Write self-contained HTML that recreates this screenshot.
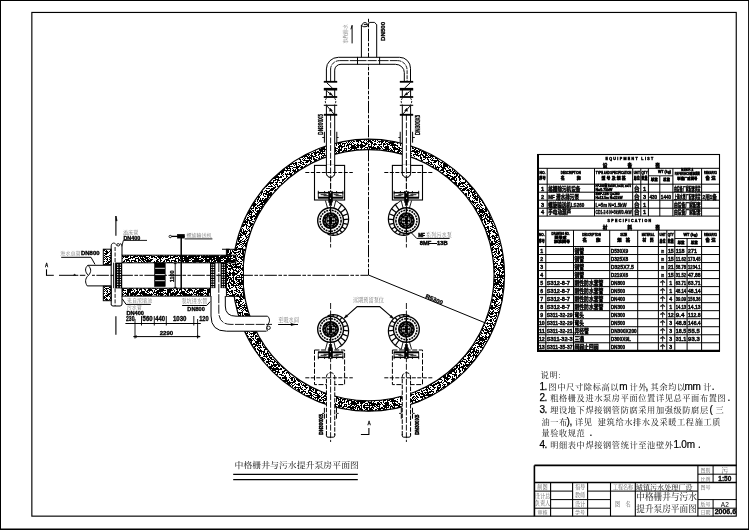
<!DOCTYPE html>
<html lang="zh"><head><meta charset="utf-8"><title>中格栅井与污水提升泵房平面图</title>
<style>html,body{margin:0;padding:0;background:#fff}svg{display:block;will-change:transform}text{white-space:pre}</style></head>
<body>
<svg width="749" height="530" viewBox="0 0 749 530">
<defs><pattern id="hc" width="64" height="64" patternUnits="userSpaceOnUse"><rect width="64" height="64" fill="#fff"/><path d="M0 0h2v1h-2zM5 0h2v1h-2zM10 0h3v1h-3zM14 0h2v1h-2zM20 0h2v1h-2zM23 0h4v1h-4zM28 0h1v1h-1zM32 0h2v1h-2zM35 0h1v1h-1zM38 0h1v1h-1zM40 0h4v1h-4zM45 0h1v1h-1zM47 0h1v1h-1zM49 0h4v1h-4zM55 0h2v1h-2zM59 0h3v1h-3zM63 0h1v1h-1zM0 1h4v1h-4zM5 1h1v1h-1zM7 1h4v1h-4zM12 1h4v1h-4zM17 1h2v1h-2zM20 1h2v1h-2zM24 1h1v1h-1zM26 1h2v1h-2zM29 1h4v1h-4zM34 1h1v1h-1zM36 1h2v1h-2zM42 1h2v1h-2zM46 1h5v1h-5zM54 1h3v1h-3zM58 1h1v1h-1zM60 1h1v1h-1zM63 1h1v1h-1zM0 2h1v1h-1zM2 2h2v1h-2zM5 2h1v1h-1zM7 2h1v1h-1zM9 2h7v1h-7zM17 2h2v1h-2zM20 2h1v1h-1zM24 2h3v1h-3zM30 2h1v1h-1zM34 2h1v1h-1zM36 2h1v1h-1zM39 2h1v1h-1zM44 2h1v1h-1zM48 2h2v1h-2zM53 2h1v1h-1zM56 2h1v1h-1zM59 2h3v1h-3zM63 2h1v1h-1zM0 3h1v1h-1zM2 3h1v1h-1zM4 3h1v1h-1zM7 3h1v1h-1zM11 3h8v1h-8zM20 3h1v1h-1zM22 3h1v1h-1zM24 3h2v1h-2zM27 3h1v1h-1zM29 3h1v1h-1zM31 3h2v1h-2zM38 3h7v1h-7zM46 3h1v1h-1zM49 3h3v1h-3zM53 3h4v1h-4zM58 3h4v1h-4zM63 3h1v1h-1zM0 4h4v1h-4zM8 4h2v1h-2zM11 4h2v1h-2zM14 4h4v1h-4zM22 4h1v1h-1zM25 4h5v1h-5zM31 4h2v1h-2zM35 4h1v1h-1zM39 4h1v1h-1zM42 4h1v1h-1zM44 4h2v1h-2zM50 4h1v1h-1zM53 4h3v1h-3zM57 4h1v1h-1zM59 4h1v1h-1zM61 4h1v1h-1zM63 4h1v1h-1zM0 5h1v1h-1zM2 5h2v1h-2zM11 5h2v1h-2zM14 5h1v1h-1zM16 5h1v1h-1zM20 5h2v1h-2zM24 5h1v1h-1zM26 5h2v1h-2zM29 5h2v1h-2zM33 5h2v1h-2zM36 5h1v1h-1zM41 5h3v1h-3zM45 5h2v1h-2zM48 5h2v1h-2zM53 5h2v1h-2zM56 5h2v1h-2zM59 5h3v1h-3zM63 5h1v1h-1zM0 6h1v1h-1zM2 6h1v1h-1zM4 6h1v1h-1zM6 6h2v1h-2zM9 6h3v1h-3zM13 6h2v1h-2zM16 6h1v1h-1zM21 6h1v1h-1zM25 6h5v1h-5zM31 6h2v1h-2zM34 6h2v1h-2zM37 6h1v1h-1zM39 6h2v1h-2zM42 6h2v1h-2zM47 6h1v1h-1zM52 6h4v1h-4zM57 6h1v1h-1zM59 6h3v1h-3zM1 7h2v1h-2zM4 7h1v1h-1zM6 7h1v1h-1zM8 7h4v1h-4zM13 7h7v1h-7zM21 7h1v1h-1zM27 7h3v1h-3zM31 7h2v1h-2zM37 7h2v1h-2zM43 7h1v1h-1zM45 7h5v1h-5zM52 7h1v1h-1zM55 7h2v1h-2zM59 7h2v1h-2zM1 8h1v1h-1zM3 8h8v1h-8zM12 8h2v1h-2zM19 8h2v1h-2zM22 8h1v1h-1zM24 8h1v1h-1zM26 8h1v1h-1zM28 8h2v1h-2zM31 8h1v1h-1zM33 8h3v1h-3zM38 8h1v1h-1zM40 8h7v1h-7zM49 8h1v1h-1zM52 8h3v1h-3zM57 8h4v1h-4zM1 9h1v1h-1zM3 9h3v1h-3zM7 9h5v1h-5zM13 9h2v1h-2zM19 9h2v1h-2zM22 9h4v1h-4zM31 9h2v1h-2zM34 9h1v1h-1zM36 9h4v1h-4zM41 9h1v1h-1zM43 9h2v1h-2zM48 9h1v1h-1zM50 9h2v1h-2zM53 9h3v1h-3zM59 9h3v1h-3zM63 9h1v1h-1zM2 10h1v1h-1zM5 10h7v1h-7zM15 10h1v1h-1zM17 10h5v1h-5zM24 10h6v1h-6zM31 10h1v1h-1zM34 10h2v1h-2zM37 10h4v1h-4zM42 10h7v1h-7zM54 10h2v1h-2zM57 10h2v1h-2zM61 10h2v1h-2zM1 11h1v1h-1zM4 11h3v1h-3zM8 11h1v1h-1zM10 11h2v1h-2zM13 11h2v1h-2zM18 11h3v1h-3zM22 11h1v1h-1zM25 11h1v1h-1zM27 11h1v1h-1zM32 11h1v1h-1zM35 11h1v1h-1zM39 11h10v1h-10zM50 11h7v1h-7zM59 11h5v1h-5zM0 12h1v1h-1zM3 12h6v1h-6zM10 12h1v1h-1zM12 12h1v1h-1zM15 12h2v1h-2zM19 12h2v1h-2zM23 12h1v1h-1zM26 12h1v1h-1zM29 12h2v1h-2zM32 12h2v1h-2zM36 12h5v1h-5zM44 12h1v1h-1zM46 12h1v1h-1zM48 12h3v1h-3zM52 12h2v1h-2zM55 12h1v1h-1zM57 12h1v1h-1zM61 12h3v1h-3zM1 13h3v1h-3zM6 13h1v1h-1zM8 13h4v1h-4zM14 13h1v1h-1zM16 13h2v1h-2zM20 13h1v1h-1zM22 13h2v1h-2zM25 13h1v1h-1zM28 13h2v1h-2zM31 13h1v1h-1zM33 13h2v1h-2zM36 13h3v1h-3zM40 13h2v1h-2zM43 13h1v1h-1zM47 13h1v1h-1zM49 13h3v1h-3zM54 13h2v1h-2zM58 13h6v1h-6zM1 14h1v1h-1zM4 14h7v1h-7zM16 14h3v1h-3zM20 14h2v1h-2zM26 14h1v1h-1zM28 14h1v1h-1zM30 14h1v1h-1zM32 14h1v1h-1zM38 14h1v1h-1zM41 14h4v1h-4zM46 14h1v1h-1zM48 14h1v1h-1zM50 14h3v1h-3zM57 14h1v1h-1zM59 14h1v1h-1zM61 14h2v1h-2zM0 15h1v1h-1zM2 15h2v1h-2zM5 15h5v1h-5zM13 15h1v1h-1zM16 15h1v1h-1zM18 15h3v1h-3zM22 15h4v1h-4zM27 15h1v1h-1zM29 15h1v1h-1zM31 15h1v1h-1zM33 15h1v1h-1zM37 15h1v1h-1zM41 15h1v1h-1zM44 15h4v1h-4zM51 15h2v1h-2zM54 15h2v1h-2zM61 15h1v1h-1zM63 15h1v1h-1zM0 16h2v1h-2zM3 16h3v1h-3zM7 16h5v1h-5zM16 16h1v1h-1zM18 16h1v1h-1zM20 16h1v1h-1zM22 16h1v1h-1zM24 16h1v1h-1zM27 16h5v1h-5zM34 16h2v1h-2zM37 16h2v1h-2zM40 16h3v1h-3zM45 16h2v1h-2zM49 16h1v1h-1zM51 16h1v1h-1zM53 16h4v1h-4zM58 16h4v1h-4zM63 16h1v1h-1zM3 17h1v1h-1zM6 17h8v1h-8zM16 17h1v1h-1zM19 17h3v1h-3zM24 17h1v1h-1zM26 17h3v1h-3zM31 17h4v1h-4zM36 17h10v1h-10zM48 17h1v1h-1zM51 17h1v1h-1zM54 17h1v1h-1zM59 17h1v1h-1zM63 17h1v1h-1zM1 18h4v1h-4zM8 18h1v1h-1zM10 18h1v1h-1zM13 18h1v1h-1zM18 18h7v1h-7zM26 18h1v1h-1zM28 18h1v1h-1zM31 18h5v1h-5zM37 18h2v1h-2zM40 18h5v1h-5zM48 18h4v1h-4zM53 18h1v1h-1zM57 18h2v1h-2zM60 18h2v1h-2zM63 18h1v1h-1zM0 19h5v1h-5zM8 19h4v1h-4zM14 19h2v1h-2zM18 19h2v1h-2zM21 19h2v1h-2zM28 19h1v1h-1zM30 19h9v1h-9zM40 19h3v1h-3zM45 19h3v1h-3zM49 19h7v1h-7zM57 19h3v1h-3zM61 19h1v1h-1zM1 20h4v1h-4zM6 20h1v1h-1zM9 20h5v1h-5zM15 20h3v1h-3zM19 20h1v1h-1zM21 20h1v1h-1zM24 20h3v1h-3zM28 20h2v1h-2zM31 20h6v1h-6zM41 20h1v1h-1zM44 20h1v1h-1zM47 20h1v1h-1zM49 20h1v1h-1zM51 20h10v1h-10zM62 20h1v1h-1zM0 21h6v1h-6zM7 21h1v1h-1zM9 21h7v1h-7zM18 21h4v1h-4zM24 21h1v1h-1zM26 21h1v1h-1zM30 21h2v1h-2zM34 21h1v1h-1zM36 21h3v1h-3zM40 21h2v1h-2zM43 21h12v1h-12zM56 21h2v1h-2zM59 21h1v1h-1zM63 21h1v1h-1zM0 22h3v1h-3zM4 22h1v1h-1zM6 22h3v1h-3zM10 22h1v1h-1zM14 22h3v1h-3zM18 22h4v1h-4zM23 22h4v1h-4zM28 22h3v1h-3zM32 22h2v1h-2zM35 22h2v1h-2zM38 22h2v1h-2zM41 22h1v1h-1zM43 22h2v1h-2zM49 22h1v1h-1zM52 22h1v1h-1zM54 22h2v1h-2zM57 22h3v1h-3zM63 22h1v1h-1zM0 23h5v1h-5zM6 23h1v1h-1zM8 23h3v1h-3zM13 23h3v1h-3zM17 23h3v1h-3zM22 23h2v1h-2zM27 23h9v1h-9zM37 23h3v1h-3zM41 23h1v1h-1zM43 23h7v1h-7zM51 23h3v1h-3zM56 23h1v1h-1zM59 23h1v1h-1zM61 23h2v1h-2zM0 24h1v1h-1zM2 24h1v1h-1zM6 24h1v1h-1zM9 24h6v1h-6zM16 24h1v1h-1zM18 24h2v1h-2zM21 24h1v1h-1zM24 24h1v1h-1zM26 24h1v1h-1zM30 24h4v1h-4zM35 24h1v1h-1zM37 24h1v1h-1zM39 24h3v1h-3zM44 24h1v1h-1zM46 24h2v1h-2zM49 24h3v1h-3zM53 24h1v1h-1zM57 24h7v1h-7zM0 25h5v1h-5zM6 25h1v1h-1zM8 25h1v1h-1zM10 25h1v1h-1zM12 25h2v1h-2zM15 25h3v1h-3zM19 25h3v1h-3zM23 25h1v1h-1zM25 25h1v1h-1zM27 25h1v1h-1zM31 25h1v1h-1zM33 25h2v1h-2zM37 25h1v1h-1zM39 25h4v1h-4zM45 25h3v1h-3zM49 25h4v1h-4zM55 25h2v1h-2zM58 25h3v1h-3zM63 25h1v1h-1zM1 26h1v1h-1zM4 26h1v1h-1zM7 26h1v1h-1zM10 26h1v1h-1zM12 26h1v1h-1zM15 26h4v1h-4zM22 26h1v1h-1zM29 26h5v1h-5zM36 26h3v1h-3zM41 26h2v1h-2zM44 26h1v1h-1zM47 26h7v1h-7zM55 26h1v1h-1zM58 26h2v1h-2zM62 26h2v1h-2zM2 27h4v1h-4zM7 27h4v1h-4zM12 27h1v1h-1zM14 27h1v1h-1zM16 27h1v1h-1zM18 27h1v1h-1zM20 27h1v1h-1zM22 27h1v1h-1zM24 27h1v1h-1zM26 27h2v1h-2zM29 27h1v1h-1zM32 27h5v1h-5zM38 27h2v1h-2zM41 27h3v1h-3zM45 27h6v1h-6zM52 27h1v1h-1zM54 27h3v1h-3zM59 27h2v1h-2zM62 27h1v1h-1zM1 28h1v1h-1zM3 28h1v1h-1zM9 28h2v1h-2zM14 28h3v1h-3zM18 28h1v1h-1zM20 28h4v1h-4zM25 28h2v1h-2zM30 28h1v1h-1zM34 28h1v1h-1zM36 28h1v1h-1zM39 28h3v1h-3zM44 28h1v1h-1zM46 28h6v1h-6zM53 28h1v1h-1zM55 28h5v1h-5zM63 28h1v1h-1zM1 29h2v1h-2zM4 29h1v1h-1zM8 29h4v1h-4zM13 29h6v1h-6zM22 29h5v1h-5zM28 29h1v1h-1zM36 29h2v1h-2zM39 29h8v1h-8zM48 29h1v1h-1zM51 29h5v1h-5zM57 29h1v1h-1zM60 29h2v1h-2zM63 29h1v1h-1zM2 30h4v1h-4zM8 30h1v1h-1zM12 30h4v1h-4zM17 30h1v1h-1zM19 30h2v1h-2zM22 30h1v1h-1zM25 30h2v1h-2zM28 30h3v1h-3zM32 30h1v1h-1zM36 30h2v1h-2zM41 30h1v1h-1zM43 30h1v1h-1zM47 30h1v1h-1zM49 30h1v1h-1zM51 30h5v1h-5zM57 30h2v1h-2zM62 30h2v1h-2zM0 31h1v1h-1zM3 31h6v1h-6zM11 31h3v1h-3zM18 31h1v1h-1zM20 31h3v1h-3zM24 31h5v1h-5zM30 31h1v1h-1zM33 31h1v1h-1zM37 31h1v1h-1zM39 31h2v1h-2zM43 31h2v1h-2zM46 31h1v1h-1zM48 31h1v1h-1zM53 31h1v1h-1zM55 31h1v1h-1zM57 31h4v1h-4zM0 32h2v1h-2zM3 32h1v1h-1zM5 32h1v1h-1zM7 32h2v1h-2zM11 32h1v1h-1zM16 32h2v1h-2zM20 32h1v1h-1zM22 32h4v1h-4zM27 32h4v1h-4zM32 32h4v1h-4zM37 32h2v1h-2zM44 32h1v1h-1zM47 32h8v1h-8zM58 32h3v1h-3zM62 32h2v1h-2zM1 33h1v1h-1zM3 33h1v1h-1zM5 33h1v1h-1zM7 33h1v1h-1zM9 33h4v1h-4zM15 33h1v1h-1zM18 33h2v1h-2zM21 33h1v1h-1zM23 33h1v1h-1zM25 33h1v1h-1zM27 33h1v1h-1zM29 33h1v1h-1zM34 33h3v1h-3zM44 33h2v1h-2zM50 33h3v1h-3zM54 33h2v1h-2zM58 33h2v1h-2zM62 33h2v1h-2zM0 34h1v1h-1zM2 34h2v1h-2zM7 34h4v1h-4zM12 34h1v1h-1zM15 34h4v1h-4zM20 34h3v1h-3zM25 34h2v1h-2zM28 34h1v1h-1zM30 34h1v1h-1zM32 34h5v1h-5zM39 34h2v1h-2zM42 34h3v1h-3zM46 34h2v1h-2zM49 34h3v1h-3zM54 34h1v1h-1zM56 34h3v1h-3zM62 34h1v1h-1zM0 35h2v1h-2zM3 35h2v1h-2zM8 35h1v1h-1zM10 35h1v1h-1zM12 35h6v1h-6zM19 35h4v1h-4zM24 35h7v1h-7zM36 35h5v1h-5zM44 35h2v1h-2zM47 35h1v1h-1zM54 35h1v1h-1zM57 35h1v1h-1zM59 35h4v1h-4zM0 36h3v1h-3zM7 36h5v1h-5zM13 36h1v1h-1zM16 36h2v1h-2zM20 36h1v1h-1zM22 36h2v1h-2zM25 36h1v1h-1zM27 36h3v1h-3zM32 36h4v1h-4zM37 36h1v1h-1zM39 36h2v1h-2zM42 36h1v1h-1zM46 36h3v1h-3zM50 36h1v1h-1zM54 36h1v1h-1zM56 36h1v1h-1zM59 36h5v1h-5zM2 37h1v1h-1zM5 37h2v1h-2zM10 37h1v1h-1zM13 37h3v1h-3zM20 37h2v1h-2zM25 37h1v1h-1zM27 37h2v1h-2zM30 37h4v1h-4zM38 37h1v1h-1zM40 37h1v1h-1zM43 37h2v1h-2zM49 37h1v1h-1zM51 37h1v1h-1zM55 37h1v1h-1zM57 37h1v1h-1zM59 37h5v1h-5zM1 38h2v1h-2zM6 38h3v1h-3zM11 38h2v1h-2zM14 38h2v1h-2zM19 38h3v1h-3zM24 38h1v1h-1zM29 38h2v1h-2zM32 38h5v1h-5zM40 38h4v1h-4zM45 38h2v1h-2zM48 38h2v1h-2zM51 38h1v1h-1zM53 38h1v1h-1zM56 38h2v1h-2zM59 38h5v1h-5zM1 39h1v1h-1zM3 39h1v1h-1zM6 39h2v1h-2zM9 39h1v1h-1zM11 39h3v1h-3zM15 39h3v1h-3zM20 39h1v1h-1zM24 39h1v1h-1zM26 39h2v1h-2zM29 39h3v1h-3zM33 39h1v1h-1zM37 39h6v1h-6zM44 39h3v1h-3zM48 39h2v1h-2zM51 39h5v1h-5zM57 39h4v1h-4zM63 39h1v1h-1zM0 40h1v1h-1zM4 40h1v1h-1zM7 40h2v1h-2zM12 40h1v1h-1zM14 40h1v1h-1zM18 40h1v1h-1zM20 40h2v1h-2zM23 40h1v1h-1zM25 40h2v1h-2zM28 40h1v1h-1zM30 40h5v1h-5zM36 40h1v1h-1zM40 40h2v1h-2zM45 40h3v1h-3zM49 40h4v1h-4zM54 40h1v1h-1zM58 40h4v1h-4zM1 41h2v1h-2zM4 41h1v1h-1zM6 41h2v1h-2zM10 41h7v1h-7zM18 41h2v1h-2zM22 41h4v1h-4zM27 41h2v1h-2zM31 41h1v1h-1zM34 41h1v1h-1zM37 41h1v1h-1zM39 41h1v1h-1zM41 41h2v1h-2zM47 41h2v1h-2zM50 41h5v1h-5zM57 41h3v1h-3zM61 41h1v1h-1zM0 42h3v1h-3zM4 42h1v1h-1zM6 42h1v1h-1zM10 42h3v1h-3zM16 42h3v1h-3zM20 42h5v1h-5zM26 42h9v1h-9zM36 42h4v1h-4zM41 42h1v1h-1zM48 42h2v1h-2zM51 42h3v1h-3zM56 42h4v1h-4zM62 42h2v1h-2zM2 43h2v1h-2zM5 43h2v1h-2zM12 43h2v1h-2zM17 43h1v1h-1zM21 43h1v1h-1zM23 43h5v1h-5zM30 43h1v1h-1zM34 43h1v1h-1zM37 43h5v1h-5zM44 43h2v1h-2zM47 43h4v1h-4zM53 43h1v1h-1zM55 43h1v1h-1zM59 43h2v1h-2zM62 43h2v1h-2zM0 44h2v1h-2zM4 44h2v1h-2zM7 44h1v1h-1zM11 44h1v1h-1zM13 44h1v1h-1zM15 44h1v1h-1zM17 44h6v1h-6zM24 44h4v1h-4zM33 44h1v1h-1zM36 44h1v1h-1zM38 44h1v1h-1zM40 44h2v1h-2zM43 44h4v1h-4zM48 44h1v1h-1zM53 44h2v1h-2zM56 44h1v1h-1zM58 44h2v1h-2zM63 44h1v1h-1zM1 45h2v1h-2zM4 45h8v1h-8zM15 45h6v1h-6zM22 45h2v1h-2zM25 45h2v1h-2zM29 45h1v1h-1zM31 45h1v1h-1zM33 45h3v1h-3zM38 45h5v1h-5zM44 45h1v1h-1zM46 45h4v1h-4zM54 45h2v1h-2zM58 45h1v1h-1zM62 45h1v1h-1zM0 46h1v1h-1zM6 46h1v1h-1zM8 46h2v1h-2zM11 46h1v1h-1zM13 46h4v1h-4zM18 46h2v1h-2zM22 46h2v1h-2zM25 46h1v1h-1zM27 46h1v1h-1zM29 46h7v1h-7zM37 46h1v1h-1zM39 46h3v1h-3zM44 46h4v1h-4zM51 46h1v1h-1zM54 46h1v1h-1zM56 46h4v1h-4zM63 46h1v1h-1zM0 47h3v1h-3zM8 47h2v1h-2zM11 47h5v1h-5zM17 47h1v1h-1zM20 47h2v1h-2zM26 47h1v1h-1zM30 47h1v1h-1zM34 47h3v1h-3zM38 47h5v1h-5zM46 47h2v1h-2zM50 47h1v1h-1zM53 47h1v1h-1zM55 47h1v1h-1zM57 47h3v1h-3zM61 47h3v1h-3zM2 48h3v1h-3zM6 48h3v1h-3zM10 48h2v1h-2zM14 48h9v1h-9zM24 48h2v1h-2zM27 48h1v1h-1zM30 48h2v1h-2zM34 48h1v1h-1zM36 48h1v1h-1zM38 48h1v1h-1zM40 48h1v1h-1zM42 48h1v1h-1zM46 48h1v1h-1zM48 48h2v1h-2zM52 48h1v1h-1zM54 48h2v1h-2zM58 48h3v1h-3zM63 48h1v1h-1zM0 49h2v1h-2zM4 49h4v1h-4zM10 49h2v1h-2zM14 49h1v1h-1zM16 49h10v1h-10zM30 49h1v1h-1zM32 49h4v1h-4zM37 49h4v1h-4zM43 49h2v1h-2zM46 49h3v1h-3zM50 49h4v1h-4zM55 49h2v1h-2zM58 49h4v1h-4zM0 50h2v1h-2zM3 50h4v1h-4zM8 50h1v1h-1zM11 50h2v1h-2zM14 50h1v1h-1zM16 50h4v1h-4zM22 50h1v1h-1zM28 50h2v1h-2zM31 50h1v1h-1zM38 50h4v1h-4zM43 50h2v1h-2zM47 50h3v1h-3zM52 50h1v1h-1zM54 50h1v1h-1zM56 50h2v1h-2zM59 50h1v1h-1zM61 50h1v1h-1zM63 50h1v1h-1zM1 51h6v1h-6zM8 51h1v1h-1zM11 51h2v1h-2zM15 51h1v1h-1zM19 51h4v1h-4zM26 51h3v1h-3zM32 51h2v1h-2zM35 51h2v1h-2zM39 51h9v1h-9zM50 51h5v1h-5zM57 51h4v1h-4zM62 51h2v1h-2zM1 52h3v1h-3zM6 52h3v1h-3zM11 52h1v1h-1zM17 52h3v1h-3zM21 52h3v1h-3zM26 52h2v1h-2zM30 52h4v1h-4zM37 52h2v1h-2zM40 52h7v1h-7zM48 52h2v1h-2zM51 52h1v1h-1zM53 52h7v1h-7zM61 52h1v1h-1zM63 52h1v1h-1zM0 53h4v1h-4zM7 53h1v1h-1zM12 53h1v1h-1zM17 53h1v1h-1zM21 53h1v1h-1zM26 53h1v1h-1zM28 53h1v1h-1zM30 53h1v1h-1zM32 53h1v1h-1zM36 53h1v1h-1zM38 53h3v1h-3zM43 53h2v1h-2zM47 53h1v1h-1zM50 53h1v1h-1zM52 53h2v1h-2zM56 53h3v1h-3zM60 53h3v1h-3zM0 54h1v1h-1zM4 54h5v1h-5zM11 54h1v1h-1zM13 54h5v1h-5zM19 54h3v1h-3zM23 54h3v1h-3zM33 54h1v1h-1zM36 54h1v1h-1zM38 54h1v1h-1zM40 54h2v1h-2zM45 54h1v1h-1zM49 54h1v1h-1zM51 54h1v1h-1zM53 54h4v1h-4zM59 54h1v1h-1zM63 54h1v1h-1zM0 55h2v1h-2zM6 55h3v1h-3zM10 55h7v1h-7zM20 55h1v1h-1zM25 55h3v1h-3zM29 55h1v1h-1zM33 55h1v1h-1zM39 55h1v1h-1zM42 55h1v1h-1zM44 55h2v1h-2zM50 55h1v1h-1zM54 55h5v1h-5zM60 55h2v1h-2zM63 55h1v1h-1zM0 56h3v1h-3zM4 56h1v1h-1zM6 56h1v1h-1zM8 56h1v1h-1zM10 56h3v1h-3zM14 56h1v1h-1zM17 56h1v1h-1zM19 56h3v1h-3zM28 56h2v1h-2zM34 56h1v1h-1zM38 56h1v1h-1zM41 56h1v1h-1zM43 56h2v1h-2zM46 56h5v1h-5zM56 56h1v1h-1zM58 56h4v1h-4zM63 56h1v1h-1zM2 57h1v1h-1zM4 57h1v1h-1zM8 57h4v1h-4zM15 57h1v1h-1zM18 57h1v1h-1zM21 57h1v1h-1zM23 57h2v1h-2zM26 57h5v1h-5zM33 57h1v1h-1zM35 57h3v1h-3zM41 57h5v1h-5zM47 57h2v1h-2zM50 57h1v1h-1zM52 57h4v1h-4zM57 57h1v1h-1zM59 57h5v1h-5zM0 58h2v1h-2zM4 58h3v1h-3zM8 58h3v1h-3zM12 58h5v1h-5zM19 58h1v1h-1zM21 58h2v1h-2zM24 58h1v1h-1zM26 58h5v1h-5zM34 58h3v1h-3zM38 58h1v1h-1zM40 58h1v1h-1zM42 58h3v1h-3zM48 58h1v1h-1zM50 58h1v1h-1zM52 58h5v1h-5zM60 58h4v1h-4zM0 59h1v1h-1zM3 59h4v1h-4zM8 59h1v1h-1zM17 59h3v1h-3zM23 59h3v1h-3zM29 59h2v1h-2zM32 59h1v1h-1zM35 59h2v1h-2zM38 59h1v1h-1zM40 59h2v1h-2zM46 59h3v1h-3zM50 59h2v1h-2zM53 59h5v1h-5zM60 59h1v1h-1zM62 59h2v1h-2zM4 60h3v1h-3zM10 60h4v1h-4zM15 60h4v1h-4zM21 60h4v1h-4zM27 60h6v1h-6zM35 60h2v1h-2zM38 60h2v1h-2zM41 60h6v1h-6zM48 60h1v1h-1zM50 60h2v1h-2zM58 60h1v1h-1zM60 60h2v1h-2zM63 60h1v1h-1zM3 61h4v1h-4zM14 61h4v1h-4zM19 61h2v1h-2zM22 61h3v1h-3zM26 61h6v1h-6zM33 61h1v1h-1zM37 61h3v1h-3zM42 61h2v1h-2zM47 61h1v1h-1zM49 61h3v1h-3zM54 61h1v1h-1zM57 61h1v1h-1zM60 61h3v1h-3zM0 62h2v1h-2zM3 62h1v1h-1zM9 62h2v1h-2zM13 62h4v1h-4zM18 62h4v1h-4zM23 62h1v1h-1zM26 62h1v1h-1zM28 62h1v1h-1zM31 62h8v1h-8zM44 62h1v1h-1zM46 62h2v1h-2zM50 62h1v1h-1zM53 62h5v1h-5zM59 62h1v1h-1zM62 62h2v1h-2zM0 63h2v1h-2zM3 63h2v1h-2zM6 63h1v1h-1zM8 63h1v1h-1zM10 63h4v1h-4zM20 63h1v1h-1zM22 63h2v1h-2zM25 63h3v1h-3zM30 63h5v1h-5zM36 63h1v1h-1zM39 63h1v1h-1zM42 63h2v1h-2zM45 63h1v1h-1zM48 63h1v1h-1zM51 63h5v1h-5zM58 63h1v1h-1zM63 63h1v1h-1z" fill="#000" shape-rendering="crispEdges"/></pattern><pattern id="hd" width="40" height="40" patternUnits="userSpaceOnUse"><rect width="40" height="40" fill="#fff"/><path d="M0 0h2v1h-2zM3 0h2v1h-2zM6 0h3v1h-3zM10 0h2v1h-2zM13 0h1v1h-1zM16 0h9v1h-9zM26 0h9v1h-9zM36 0h4v1h-4zM0 1h1v1h-1zM2 1h1v1h-1zM6 1h3v1h-3zM11 1h5v1h-5zM18 1h5v1h-5zM24 1h2v1h-2zM28 1h1v1h-1zM31 1h4v1h-4zM36 1h3v1h-3zM0 2h1v1h-1zM3 2h1v1h-1zM6 2h1v1h-1zM8 2h5v1h-5zM14 2h3v1h-3zM21 2h2v1h-2zM26 2h3v1h-3zM30 2h6v1h-6zM37 2h2v1h-2zM1 3h1v1h-1zM4 3h3v1h-3zM8 3h5v1h-5zM14 3h2v1h-2zM17 3h2v1h-2zM21 3h1v1h-1zM24 3h4v1h-4zM30 3h4v1h-4zM36 3h4v1h-4zM1 4h1v1h-1zM4 4h3v1h-3zM8 4h6v1h-6zM15 4h4v1h-4zM20 4h6v1h-6zM28 4h5v1h-5zM34 4h1v1h-1zM36 4h2v1h-2zM0 5h1v1h-1zM4 5h5v1h-5zM10 5h8v1h-8zM20 5h3v1h-3zM24 5h1v1h-1zM26 5h3v1h-3zM30 5h4v1h-4zM35 5h5v1h-5zM0 6h2v1h-2zM3 6h1v1h-1zM5 6h3v1h-3zM9 6h1v1h-1zM12 6h2v1h-2zM15 6h3v1h-3zM19 6h11v1h-11zM31 6h1v1h-1zM35 6h1v1h-1zM37 6h1v1h-1zM1 7h7v1h-7zM10 7h2v1h-2zM13 7h5v1h-5zM19 7h3v1h-3zM23 7h1v1h-1zM27 7h7v1h-7zM36 7h3v1h-3zM0 8h7v1h-7zM9 8h4v1h-4zM16 8h2v1h-2zM20 8h2v1h-2zM23 8h2v1h-2zM28 8h3v1h-3zM32 8h4v1h-4zM37 8h1v1h-1zM39 8h1v1h-1zM0 9h4v1h-4zM7 9h5v1h-5zM13 9h1v1h-1zM16 9h2v1h-2zM19 9h3v1h-3zM24 9h2v1h-2zM28 9h4v1h-4zM35 9h2v1h-2zM39 9h1v1h-1zM0 10h6v1h-6zM7 10h6v1h-6zM14 10h1v1h-1zM17 10h1v1h-1zM19 10h1v1h-1zM21 10h1v1h-1zM25 10h1v1h-1zM27 10h6v1h-6zM34 10h1v1h-1zM37 10h3v1h-3zM0 11h3v1h-3zM7 11h4v1h-4zM14 11h1v1h-1zM16 11h3v1h-3zM21 11h4v1h-4zM26 11h2v1h-2zM29 11h1v1h-1zM32 11h1v1h-1zM34 11h1v1h-1zM36 11h4v1h-4zM0 12h1v1h-1zM3 12h1v1h-1zM5 12h1v1h-1zM7 12h4v1h-4zM12 12h2v1h-2zM15 12h4v1h-4zM20 12h5v1h-5zM27 12h2v1h-2zM33 12h6v1h-6zM0 13h3v1h-3zM4 13h5v1h-5zM10 13h8v1h-8zM19 13h8v1h-8zM29 13h1v1h-1zM31 13h1v1h-1zM33 13h1v1h-1zM36 13h4v1h-4zM0 14h4v1h-4zM6 14h3v1h-3zM10 14h7v1h-7zM20 14h1v1h-1zM22 14h11v1h-11zM34 14h3v1h-3zM38 14h2v1h-2zM0 15h3v1h-3zM5 15h1v1h-1zM7 15h2v1h-2zM10 15h3v1h-3zM14 15h2v1h-2zM17 15h5v1h-5zM23 15h9v1h-9zM36 15h1v1h-1zM38 15h1v1h-1zM0 16h9v1h-9zM10 16h1v1h-1zM13 16h5v1h-5zM19 16h7v1h-7zM29 16h1v1h-1zM31 16h4v1h-4zM37 16h3v1h-3zM0 17h2v1h-2zM3 17h1v1h-1zM5 17h3v1h-3zM10 17h5v1h-5zM18 17h1v1h-1zM20 17h1v1h-1zM22 17h1v1h-1zM24 17h5v1h-5zM31 17h2v1h-2zM34 17h3v1h-3zM38 17h2v1h-2zM0 18h1v1h-1zM2 18h1v1h-1zM8 18h3v1h-3zM12 18h1v1h-1zM15 18h4v1h-4zM20 18h4v1h-4zM25 18h3v1h-3zM29 18h1v1h-1zM36 18h1v1h-1zM39 18h1v1h-1zM0 19h1v1h-1zM5 19h4v1h-4zM15 19h1v1h-1zM18 19h2v1h-2zM21 19h5v1h-5zM27 19h2v1h-2zM30 19h3v1h-3zM37 19h2v1h-2zM0 20h2v1h-2zM4 20h1v1h-1zM6 20h4v1h-4zM11 20h5v1h-5zM18 20h3v1h-3zM22 20h2v1h-2zM25 20h7v1h-7zM36 20h2v1h-2zM0 21h1v1h-1zM3 21h2v1h-2zM6 21h1v1h-1zM9 21h1v1h-1zM11 21h1v1h-1zM14 21h3v1h-3zM18 21h1v1h-1zM21 21h1v1h-1zM23 21h2v1h-2zM26 21h5v1h-5zM34 21h1v1h-1zM36 21h3v1h-3zM2 22h2v1h-2zM7 22h6v1h-6zM18 22h2v1h-2zM21 22h2v1h-2zM24 22h2v1h-2zM27 22h1v1h-1zM33 22h4v1h-4zM39 22h1v1h-1zM1 23h3v1h-3zM5 23h3v1h-3zM11 23h1v1h-1zM13 23h1v1h-1zM18 23h1v1h-1zM23 23h4v1h-4zM28 23h4v1h-4zM33 23h1v1h-1zM35 23h2v1h-2zM38 23h1v1h-1zM0 24h4v1h-4zM5 24h3v1h-3zM9 24h4v1h-4zM14 24h2v1h-2zM17 24h1v1h-1zM19 24h2v1h-2zM22 24h1v1h-1zM24 24h5v1h-5zM30 24h1v1h-1zM32 24h2v1h-2zM35 24h2v1h-2zM0 25h8v1h-8zM9 25h3v1h-3zM13 25h2v1h-2zM17 25h4v1h-4zM22 25h5v1h-5zM28 25h2v1h-2zM31 25h2v1h-2zM34 25h2v1h-2zM1 26h1v1h-1zM4 26h1v1h-1zM6 26h2v1h-2zM9 26h4v1h-4zM14 26h3v1h-3zM18 26h2v1h-2zM22 26h6v1h-6zM29 26h5v1h-5zM35 26h3v1h-3zM1 27h1v1h-1zM3 27h3v1h-3zM7 27h2v1h-2zM10 27h1v1h-1zM13 27h6v1h-6zM21 27h3v1h-3zM25 27h1v1h-1zM27 27h1v1h-1zM29 27h3v1h-3zM35 27h1v1h-1zM37 27h3v1h-3zM0 28h1v1h-1zM2 28h4v1h-4zM7 28h1v1h-1zM9 28h5v1h-5zM16 28h3v1h-3zM21 28h1v1h-1zM23 28h6v1h-6zM31 28h1v1h-1zM33 28h3v1h-3zM37 28h1v1h-1zM39 28h1v1h-1zM0 29h4v1h-4zM5 29h6v1h-6zM12 29h2v1h-2zM16 29h3v1h-3zM21 29h2v1h-2zM24 29h4v1h-4zM29 29h4v1h-4zM35 29h4v1h-4zM1 30h1v1h-1zM3 30h3v1h-3zM7 30h1v1h-1zM11 30h1v1h-1zM13 30h5v1h-5zM23 30h3v1h-3zM30 30h4v1h-4zM36 30h2v1h-2zM39 30h1v1h-1zM0 31h3v1h-3zM5 31h1v1h-1zM7 31h3v1h-3zM11 31h7v1h-7zM19 31h4v1h-4zM24 31h6v1h-6zM31 31h1v1h-1zM35 31h1v1h-1zM38 31h2v1h-2zM0 32h2v1h-2zM3 32h3v1h-3zM7 32h1v1h-1zM9 32h1v1h-1zM11 32h2v1h-2zM14 32h9v1h-9zM25 32h1v1h-1zM28 32h1v1h-1zM30 32h2v1h-2zM33 32h1v1h-1zM35 32h3v1h-3zM39 32h1v1h-1zM1 33h4v1h-4zM8 33h3v1h-3zM13 33h4v1h-4zM18 33h2v1h-2zM21 33h3v1h-3zM25 33h4v1h-4zM30 33h1v1h-1zM33 33h1v1h-1zM35 33h2v1h-2zM39 33h1v1h-1zM0 34h2v1h-2zM5 34h3v1h-3zM9 34h2v1h-2zM14 34h3v1h-3zM18 34h1v1h-1zM21 34h6v1h-6zM30 34h2v1h-2zM38 34h2v1h-2zM0 35h1v1h-1zM2 35h3v1h-3zM8 35h2v1h-2zM11 35h3v1h-3zM15 35h6v1h-6zM22 35h3v1h-3zM27 35h1v1h-1zM30 35h1v1h-1zM32 35h2v1h-2zM35 35h2v1h-2zM38 35h2v1h-2zM0 36h6v1h-6zM8 36h1v1h-1zM10 36h1v1h-1zM12 36h1v1h-1zM15 36h1v1h-1zM18 36h1v1h-1zM22 36h8v1h-8zM32 36h3v1h-3zM36 36h4v1h-4zM5 37h2v1h-2zM8 37h4v1h-4zM13 37h1v1h-1zM15 37h4v1h-4zM20 37h1v1h-1zM22 37h5v1h-5zM28 37h4v1h-4zM33 37h2v1h-2zM0 38h4v1h-4zM5 38h2v1h-2zM9 38h2v1h-2zM15 38h5v1h-5zM22 38h1v1h-1zM25 38h1v1h-1zM27 38h2v1h-2zM30 38h6v1h-6zM38 38h1v1h-1zM0 39h6v1h-6zM8 39h2v1h-2zM13 39h2v1h-2zM18 39h4v1h-4zM25 39h4v1h-4zM31 39h1v1h-1zM36 39h1v1h-1z" fill="#000" shape-rendering="crispEdges"/></pattern><pattern id="he" width="32" height="32" patternUnits="userSpaceOnUse"><rect width="32" height="32" fill="#fff"/><path d="M0 0h8v1h-8zM9 0h18v1h-18zM28 0h4v1h-4zM0 1h2v1h-2zM3 1h2v1h-2zM6 1h1v1h-1zM9 1h14v1h-14zM24 1h8v1h-8zM0 2h9v1h-9zM11 2h1v1h-1zM13 2h2v1h-2zM17 2h3v1h-3zM21 2h10v1h-10zM2 3h5v1h-5zM9 3h2v1h-2zM12 3h11v1h-11zM24 3h5v1h-5zM31 3h1v1h-1zM0 4h12v1h-12zM13 4h5v1h-5zM19 4h2v1h-2zM22 4h9v1h-9zM0 5h11v1h-11zM13 5h5v1h-5zM19 5h1v1h-1zM21 5h3v1h-3zM25 5h4v1h-4zM1 6h3v1h-3zM7 6h3v1h-3zM11 6h3v1h-3zM15 6h1v1h-1zM17 6h5v1h-5zM23 6h1v1h-1zM25 6h7v1h-7zM1 7h2v1h-2zM5 7h25v1h-25zM31 7h1v1h-1zM0 8h13v1h-13zM15 8h1v1h-1zM17 8h6v1h-6zM25 8h7v1h-7zM1 9h14v1h-14zM16 9h2v1h-2zM20 9h11v1h-11zM0 10h4v1h-4zM5 10h1v1h-1zM7 10h4v1h-4zM12 10h4v1h-4zM17 10h1v1h-1zM21 10h8v1h-8zM30 10h2v1h-2zM1 11h2v1h-2zM6 11h2v1h-2zM9 11h1v1h-1zM11 11h8v1h-8zM20 11h11v1h-11zM2 12h1v1h-1zM4 12h12v1h-12zM18 12h2v1h-2zM21 12h1v1h-1zM23 12h4v1h-4zM29 12h3v1h-3zM0 13h17v1h-17zM18 13h3v1h-3zM22 13h7v1h-7zM30 13h2v1h-2zM0 14h11v1h-11zM12 14h5v1h-5zM18 14h1v1h-1zM20 14h5v1h-5zM26 14h6v1h-6zM1 15h9v1h-9zM11 15h3v1h-3zM15 15h17v1h-17zM0 16h2v1h-2zM3 16h4v1h-4zM8 16h11v1h-11zM20 16h6v1h-6zM27 16h5v1h-5zM0 17h4v1h-4zM5 17h10v1h-10zM16 17h2v1h-2zM19 17h2v1h-2zM22 17h2v1h-2zM25 17h7v1h-7zM1 18h14v1h-14zM16 18h12v1h-12zM29 18h3v1h-3zM0 19h3v1h-3zM4 19h10v1h-10zM15 19h15v1h-15zM31 19h1v1h-1zM0 20h4v1h-4zM6 20h15v1h-15zM23 20h2v1h-2zM26 20h6v1h-6zM0 21h3v1h-3zM4 21h2v1h-2zM7 21h9v1h-9zM17 21h4v1h-4zM22 21h10v1h-10zM0 22h3v1h-3zM6 22h2v1h-2zM9 22h3v1h-3zM13 22h1v1h-1zM15 22h2v1h-2zM18 22h4v1h-4zM23 22h3v1h-3zM27 22h4v1h-4zM0 23h10v1h-10zM11 23h12v1h-12zM24 23h4v1h-4zM29 23h3v1h-3zM0 24h3v1h-3zM4 24h13v1h-13zM18 24h1v1h-1zM20 24h2v1h-2zM23 24h3v1h-3zM27 24h5v1h-5zM0 25h14v1h-14zM15 25h4v1h-4zM20 25h9v1h-9zM31 25h1v1h-1zM0 26h13v1h-13zM14 26h18v1h-18zM0 27h15v1h-15zM16 27h2v1h-2zM19 27h3v1h-3zM23 27h9v1h-9zM0 28h7v1h-7zM8 28h6v1h-6zM15 28h6v1h-6zM22 28h2v1h-2zM26 28h3v1h-3zM31 28h1v1h-1zM0 29h4v1h-4zM5 29h3v1h-3zM9 29h1v1h-1zM11 29h4v1h-4zM16 29h16v1h-16zM0 30h3v1h-3zM4 30h5v1h-5zM10 30h12v1h-12zM23 30h2v1h-2zM26 30h6v1h-6zM0 31h4v1h-4zM5 31h3v1h-3zM9 31h1v1h-1zM11 31h2v1h-2zM14 31h2v1h-2zM17 31h10v1h-10zM29 31h3v1h-3z" fill="#000" shape-rendering="crispEdges"/></pattern><pattern id="hl" width="16" height="16" patternUnits="userSpaceOnUse"><rect width="16" height="16" fill="#fff"/><path d="M0 0h1v1h-1zM3 0h1v1h-1zM9 0h4v1h-4zM15 0h1v1h-1zM1 1h1v1h-1zM3 1h1v1h-1zM5 1h2v1h-2zM8 1h1v1h-1zM10 1h1v1h-1zM13 1h2v1h-2zM1 2h2v1h-2zM6 2h2v1h-2zM9 2h1v1h-1zM11 2h1v1h-1zM14 2h2v1h-2zM0 3h1v1h-1zM2 3h2v1h-2zM5 3h2v1h-2zM8 3h1v1h-1zM10 3h2v1h-2zM13 3h1v1h-1zM0 4h1v1h-1zM2 4h1v1h-1zM4 4h1v1h-1zM11 4h1v1h-1zM14 4h2v1h-2zM1 5h1v1h-1zM5 5h1v1h-1zM7 5h2v1h-2zM10 5h1v1h-1zM12 5h3v1h-3zM1 6h1v1h-1zM4 6h1v1h-1zM6 6h2v1h-2zM11 6h3v1h-3zM1 7h1v1h-1zM5 7h2v1h-2zM9 7h4v1h-4zM5 8h1v1h-1zM7 8h2v1h-2zM10 8h2v1h-2zM13 8h1v1h-1zM15 8h1v1h-1zM6 9h4v1h-4zM14 9h1v1h-1zM3 10h1v1h-1zM5 10h4v1h-4zM10 10h1v1h-1zM14 10h2v1h-2zM0 11h1v1h-1zM2 11h1v1h-1zM4 11h1v1h-1zM6 11h1v1h-1zM9 11h3v1h-3zM13 11h1v1h-1zM15 11h1v1h-1zM2 12h1v1h-1zM5 12h2v1h-2zM10 12h3v1h-3zM0 13h2v1h-2zM4 13h1v1h-1zM6 13h1v1h-1zM8 13h4v1h-4zM14 13h1v1h-1zM1 14h1v1h-1zM3 14h1v1h-1zM5 14h1v1h-1zM9 14h2v1h-2zM1 15h3v1h-3zM6 15h1v1h-1zM8 15h1v1h-1zM13 15h3v1h-3z" fill="#000" shape-rendering="crispEdges"/></pattern></defs>
<rect width="749" height="530" fill="#fff"/>
<rect x="0" y="0" width="749" height="1" fill="#000"/>
<rect x="0" y="0" width="1" height="530" fill="#000"/>
<rect x="0" y="528.5" width="749" height="1.5" fill="#000"/>
<rect x="748.1" y="0" width="0.9" height="530" fill="#000"/>
<rect x="31.85" y="12.45" width="704.4" height="503.7" fill="none" stroke="#000" stroke-width="1.15"/>
<path d="M232.5 275.2a136 136 0 1 0 272 0a136 136 0 1 0 -272 0zM242.9 275.2a125.6 125.6 0 1 0 251.2 0a125.6 125.6 0 1 0 -251.2 0z" fill="url(#hc)" fill-rule="evenodd" stroke="none"/>
<circle cx="368.5" cy="275.2" r="136" fill="none" stroke="#000" stroke-width="1.2"/>
<circle cx="368.5" cy="275.2" r="125.6" fill="none" stroke="#000" stroke-width="1.2"/>
<line x1="368.5" y1="18.8" x2="368.5" y2="275" stroke="#000" stroke-width="1" stroke-dasharray="12.5 1.5 3.6 1.5 3.4 1.5" stroke-dashoffset="14"/>
<line x1="92" y1="275.3" x2="368.5" y2="275.3" stroke="#000" stroke-width="1" stroke-dasharray="12.5 1.5 3.6 1.5 3.4 1.5" stroke-dashoffset="19.6"/>
<path d="M46.5 275.3H53.8M59 275.3H78.3M79.8 275.3H85.3" fill="none" stroke="#000" stroke-width="1" />
<path d="M73.2 275.3l1.4 -1.2l1.4 1.2z" fill="#000" stroke="#000" stroke-width="0.3" />
<line x1="368.5" y1="275" x2="487.2" y2="323.7" stroke="#000" stroke-width="1"/>
<text x="433.4" y="301.3" font-size="6" fill="#000" font-family='"Liberation Sans","Noto Sans CJK SC",sans-serif' font-weight="bold" stroke="#000" stroke-width="0.3" text-anchor="middle" transform="rotate(22.3 433.4 301.3)" textLength="18.4" lengthAdjust="spacingAndGlyphs" >R5300</text>
<rect x="326.4" y="70" width="8.3" height="104" fill="#fff"/>
<path d="M326.4 114.7V173.2A4.15 4.15 0 0 0 334.7 173.2V114.7" fill="#fff" stroke="#000" stroke-width="1" />
<line x1="326.4" y1="68.8" x2="326.4" y2="81.7" stroke="#000" stroke-width="1"/>
<line x1="326.4" y1="89.1" x2="326.4" y2="97" stroke="#000" stroke-width="1"/>
<line x1="334.7" y1="89.1" x2="334.7" y2="97" stroke="#000" stroke-width="1"/>
<line x1="326.4" y1="105.3" x2="326.4" y2="114.7" stroke="#000" stroke-width="1"/>
<line x1="334.7" y1="105.3" x2="334.7" y2="114.7" stroke="#000" stroke-width="1"/>
<path d="M338.4 57.3A12.1 11.6 0 0 0 326.4 68.9" fill="none" stroke="#000" stroke-width="1" />
<path d="M341 64.3A6.2 5.8 0 0 0 334.7 70.1V81.7" fill="none" stroke="#000" stroke-width="1" />
<path d="M339.6 60.6A9 8.6 0 0 0 330.6 69.2" fill="none" stroke="#000" stroke-width="0.9" stroke-dasharray="4 1" />
<line x1="338.4" y1="57.3" x2="357.5" y2="57.3" stroke="#000" stroke-width="1"/>
<line x1="341" y1="64.3" x2="357.5" y2="64.3" stroke="#000" stroke-width="1"/>
<line x1="339.6" y1="60.6" x2="357.5" y2="60.6" stroke="#000" stroke-width="0.9" stroke-dasharray="9 1.2"/>
<line x1="330.6" y1="68.9" x2="330.6" y2="81.7" stroke="#000" stroke-width="0.9"/>
<line x1="330.6" y1="114.7" x2="330.6" y2="247.5" stroke="#000" stroke-width="0.9" stroke-dasharray="6 1.6"/>
<line x1="323.8" y1="81.8" x2="337.2" y2="81.8" stroke="#000" stroke-width="1.8"/>
<line x1="323.8" y1="89.2" x2="337.2" y2="89.2" stroke="#000" stroke-width="2.6"/>
<line x1="323.8" y1="97" x2="337.2" y2="97" stroke="#000" stroke-width="1.8"/>
<line x1="323.8" y1="105.3" x2="337.2" y2="105.3" stroke="#000" stroke-width="1.1"/>
<line x1="323.8" y1="114.8" x2="337.2" y2="114.8" stroke="#000" stroke-width="1.9"/>
<line x1="326.6" y1="82.6" x2="332.5" y2="88.2" stroke="#000" stroke-width="1"/>
<line x1="327.4" y1="91.5" x2="333.6" y2="96.6" stroke="#000" stroke-width="1"/>
<path d="M330 92.5L332.2 94.4L329.6 94.9z" fill="#000" stroke="#000" stroke-width="0.5" />
<line x1="327.2" y1="106.2" x2="333.8" y2="113.8" stroke="#000" stroke-width="1"/>
<path d="M330.3 108.3L332.3 110.6L329.5 111.2z" fill="#000" stroke="#000" stroke-width="0.5" />
<path d="M326.4 98.2Q324.2 101.3 326.4 104.6" fill="none" stroke="#000" stroke-width="0.9" stroke-dasharray="2 1" />
<path d="M334.7 98.2Q336.9 101.3 334.7 104.6" fill="none" stroke="#000" stroke-width="0.9" stroke-dasharray="2 1" />
<line x1="324.4" y1="131.8" x2="324.4" y2="142.7" stroke="#000" stroke-width="1"/>
<line x1="336.8" y1="131.8" x2="336.8" y2="142.7" stroke="#000" stroke-width="1"/>
<line x1="322.2" y1="137.5" x2="324.4" y2="137.5" stroke="#000" stroke-width="0.9"/>
<line x1="336.8" y1="137.5" x2="338.6" y2="137.5" stroke="#000" stroke-width="0.9"/>
<rect x="314.5" y="165.4" width="30.1" height="34.6" fill="none" stroke="#000" stroke-width="1.1"/>
<path d="M326.4 165V173.2A4.15 4.15 0 0 0 334.7 173.2V165" fill="#fff" stroke="#000" stroke-width="1" />
<line x1="330.6" y1="160" x2="330.6" y2="200" stroke="#000" stroke-width="0.9" stroke-dasharray="6 1.6"/>
<rect x="402.3" y="70" width="8.3" height="104" fill="#fff"/>
<path d="M410.6 114.7V173.2A4.15 4.15 0 0 1 402.3 173.2V114.7" fill="#fff" stroke="#000" stroke-width="1" />
<line x1="410.6" y1="89.1" x2="410.6" y2="97" stroke="#000" stroke-width="1"/>
<line x1="402.3" y1="89.1" x2="402.3" y2="97" stroke="#000" stroke-width="1"/>
<line x1="410.6" y1="105.3" x2="410.6" y2="114.7" stroke="#000" stroke-width="1"/>
<line x1="402.3" y1="105.3" x2="402.3" y2="114.7" stroke="#000" stroke-width="1"/>
<path d="M399.6 57.3A10.9 10.9 0 0 1 410.5 68.3V81.7" fill="none" stroke="#000" stroke-width="1" />
<path d="M395.4 64.3A8.9 8.2 0 0 1 404.3 72.5V81.7" fill="none" stroke="#000" stroke-width="1" />
<path d="M397.5 60.6A9.6 9.6 0 0 1 407.1 70.3V81.7" fill="none" stroke="#000" stroke-width="0.9" stroke-dasharray="4 1" />
<line x1="379.6" y1="57.3" x2="399.6" y2="57.3" stroke="#000" stroke-width="1"/>
<line x1="379.6" y1="64.3" x2="395.4" y2="64.3" stroke="#000" stroke-width="1"/>
<line x1="379.6" y1="60.6" x2="397.5" y2="60.6" stroke="#000" stroke-width="0.9" stroke-dasharray="9 1.2"/>
<line x1="406.4" y1="114.7" x2="406.4" y2="247.5" stroke="#000" stroke-width="0.9" stroke-dasharray="6 1.6"/>
<line x1="413.2" y1="81.8" x2="399.8" y2="81.8" stroke="#000" stroke-width="1.8"/>
<line x1="413.2" y1="89.2" x2="399.8" y2="89.2" stroke="#000" stroke-width="2.6"/>
<line x1="413.2" y1="97" x2="399.8" y2="97" stroke="#000" stroke-width="1.8"/>
<line x1="413.2" y1="105.3" x2="399.8" y2="105.3" stroke="#000" stroke-width="1.1"/>
<line x1="413.2" y1="114.8" x2="399.8" y2="114.8" stroke="#000" stroke-width="1.9"/>
<line x1="410.4" y1="82.6" x2="404.5" y2="88.2" stroke="#000" stroke-width="1"/>
<line x1="409.6" y1="91.5" x2="403.4" y2="96.6" stroke="#000" stroke-width="1"/>
<path d="M407 92.5L404.8 94.4L407.4 94.9z" fill="#000" stroke="#000" stroke-width="0.5" />
<line x1="409.8" y1="106.2" x2="403.2" y2="113.8" stroke="#000" stroke-width="1"/>
<path d="M406.7 108.3L404.7 110.6L407.5 111.2z" fill="#000" stroke="#000" stroke-width="0.5" />
<path d="M410.6 98.2Q412.8 101.3 410.6 104.6" fill="none" stroke="#000" stroke-width="0.9" stroke-dasharray="2 1" />
<path d="M402.3 98.2Q400.1 101.3 402.3 104.6" fill="none" stroke="#000" stroke-width="0.9" stroke-dasharray="2 1" />
<line x1="412.6" y1="131.8" x2="412.6" y2="142.7" stroke="#000" stroke-width="1"/>
<line x1="400.2" y1="131.8" x2="400.2" y2="142.7" stroke="#000" stroke-width="1"/>
<line x1="414.8" y1="137.5" x2="412.6" y2="137.5" stroke="#000" stroke-width="0.9"/>
<line x1="400.2" y1="137.5" x2="398.4" y2="137.5" stroke="#000" stroke-width="0.9"/>
<rect x="392.4" y="165.4" width="30.1" height="34.6" fill="none" stroke="#000" stroke-width="1.1"/>
<path d="M410.6 165V173.2A4.15 4.15 0 0 1 402.3 173.2V165" fill="#fff" stroke="#000" stroke-width="1" />
<line x1="406.4" y1="160" x2="406.4" y2="200" stroke="#000" stroke-width="0.9" stroke-dasharray="6 1.6"/>
<rect x="357.5" y="57.3" width="22.1" height="7" fill="#fff" stroke="#000" stroke-width="1"/>
<line x1="357.5" y1="60.6" x2="379.6" y2="60.6" stroke="#000" stroke-width="0.9" stroke-dasharray="9 1.2"/>
<path d="M361.4 57.3V25.2M376.7 57.3V24.6" fill="none" stroke="#000" stroke-width="1" />
<path d="M361.4 25.5L363.6 22.7H366L368 24.6L369.6 22.4H374.6L376.7 24.8M368 24.6Q368.4 26.4 366 26.6L363.8 26.8L361.4 25.5M363.8 24.6H367" fill="none" stroke="#000" stroke-width="0.95" />
<line x1="305.3" y1="172.5" x2="352.8" y2="172.5" stroke="#000" stroke-width="1" stroke-dasharray="4 1.5"/>
<line x1="384.3" y1="172.5" x2="433.6" y2="172.5" stroke="#000" stroke-width="1" stroke-dasharray="4 1.5"/>
<line x1="352.1" y1="25.3" x2="352.1" y2="43.4" stroke="#000" stroke-width="1"/>
<line x1="352.1" y1="25.3" x2="350.9" y2="29.3" stroke="#000" stroke-width="0.9"/>
<text x="346.7" y="43.8" font-size="4.9" fill="#777" font-family='"Liberation Serif","Noto Serif CJK SC",serif' transform="rotate(-90 346.7 43.8)" >事故排水</text>
<text x="385.1" y="41" font-size="5.6" fill="#000" font-family='"Liberation Sans","Noto Sans CJK SC",sans-serif' font-weight="bold" stroke="#000" stroke-width="0.3" transform="rotate(-90 385.1 41)" textLength="19.2" lengthAdjust="spacingAndGlyphs" >DN500</text>
<text x="323.1" y="134.8" font-size="6.8" fill="#000" font-family='"Liberation Sans","Noto Sans CJK SC",sans-serif' font-weight="bold" stroke="#000" stroke-width="0.3" transform="rotate(-90 323.1 134.8)" textLength="20.8" lengthAdjust="spacingAndGlyphs" >DN300X5</text>
<text x="420.3" y="135" font-size="6.8" fill="#000" font-family='"Liberation Sans","Noto Sans CJK SC",sans-serif' font-weight="bold" stroke="#000" stroke-width="0.3" transform="rotate(-90 420.3 135)" textLength="20.2" lengthAdjust="spacingAndGlyphs" >DN300X5</text>
<g transform="translate(330.6 220.7) scale(1 1)">
<line x1="-12.6" y1="-28" x2="12.6" y2="-28" stroke="#000" stroke-width="1.5"/>
<line x1="-12.3" y1="-29.9" x2="-12.3" y2="-27.3" stroke="#000" stroke-width="0.9"/>
<line x1="12.3" y1="-29.9" x2="12.3" y2="-27.3" stroke="#000" stroke-width="0.9"/>
<line x1="-6" y1="-29.7" x2="-6" y2="-27.3" stroke="#000" stroke-width="0.9"/>
<line x1="6" y1="-29.7" x2="6" y2="-27.3" stroke="#000" stroke-width="0.9"/>
<line x1="-12.6" y1="-23" x2="12.6" y2="-23" stroke="#000" stroke-width="2"/>
<line x1="-12.3" y1="-28" x2="-12.3" y2="-23" stroke="#000" stroke-width="0.9"/>
<line x1="12.3" y1="-28" x2="12.3" y2="-23" stroke="#000" stroke-width="0.9"/>
<path d="M-10 -26H-4M-7 -25H-2M3 -26H8M5 -25H11" fill="none" stroke="#000" stroke-width="0.9" />
<rect x="-2" y="-29.1" width="4" height="10.6" fill="#000" stroke="#000" stroke-width="0.5"/>
<rect x="-0.5" y="-28.5" width="1" height="1" fill="#fff"/>
<rect x="-0.7" y="-22.9" width="1" height="1" fill="#fff"/>
<rect x="-1.2" y="-18.7" width="2.4" height="3.5" fill="#000" stroke="#000" stroke-width="0.5"/>
<path d="M-5.2 -20.2L-3 -12.4M5.2 -20.2L3.3 -12.6" fill="none" stroke="#000" stroke-width="0.9" />
<path d="M-3.42 12.75 L-1.6 13.92 L0.48 14.51 L2.69 14.71 L4.94 14.52 L7.19 13.96 L9.36 13.03 L11.4 11.74 L13.25 10.13 L14.85 8.22 L16.17 6.05 L17.16 3.66 L17.78 1.12 L18.02 -1.53 L17.85 -4.22 L17.27 -6.89 L16.29 -9.48 L14.91 -11.92 L13.16 -14.16 L11.07 -16.14 L8.68 -17.8" fill="none" stroke="#000" stroke-width="1.2" />
<line x1="-1.48" y1="12.92" x2="-1.6" y2="13.92" stroke="#000" stroke-width="1.2"/>
<line x1="2.34" y1="12.79" x2="2.69" y2="14.71" stroke="#000" stroke-width="1.2"/>
<line x1="5.95" y1="11.56" x2="7.19" y2="13.96" stroke="#000" stroke-width="1.2"/>
<line x1="9.06" y1="9.33" x2="11.4" y2="11.74" stroke="#000" stroke-width="1.2"/>
<line x1="11.38" y1="6.29" x2="14.85" y2="8.22" stroke="#000" stroke-width="1.2"/>
<line x1="12.71" y1="2.71" x2="17.16" y2="3.66" stroke="#000" stroke-width="1.2"/>
<line x1="12.95" y1="-1.1" x2="18.02" y2="-1.53" stroke="#000" stroke-width="1.2"/>
<line x1="12.07" y1="-4.82" x2="17.27" y2="-6.89" stroke="#000" stroke-width="1.2"/>
<line x1="10.15" y1="-8.12" x2="14.91" y2="-11.92" stroke="#000" stroke-width="1.2"/>
<line x1="7.35" y1="-10.72" x2="11.07" y2="-16.14" stroke="#000" stroke-width="1.2"/>
<line x1="8.68" y1="-17.8" x2="5.2" y2="-20.2" stroke="#000" stroke-width="0.9"/>
<circle cx="0" cy="0" r="12.9" fill="none" stroke="#000" stroke-width="1.4"/>
<circle cx="0" cy="0" r="10.5" fill="none" stroke="#000" stroke-width="1.5" stroke-dasharray="1.9 0.9"/>
<circle cx="0" cy="0" r="7.8" fill="#000" stroke="#000" stroke-width="1.2"/>
<circle cx="0" cy="0" r="6.2" fill="none" stroke="#fff" stroke-width="0.5" stroke-dasharray="1.6 2.2"/>
<circle cx="0" cy="0" r="4.2" fill="none" stroke="#fff" stroke-width="0.55" stroke-dasharray="2.4 1.4"/>
<path d="M-4.2 -1.5H-1.4M1.4 -1.5H4.2M-4.2 1.7H-1.4M1.4 1.7H4.2M-2.1 -2.6V-0.6M-2.1 0.8V2.8M2.1 -2.6V-0.6M2.1 0.8V2.8" fill="none" stroke="#fff" stroke-width="0.6" />
<path d="M0 -13V-7M0 7V13" fill="none" stroke="#000" stroke-width="1.3" />
</g>
<g transform="translate(406.4 220.7) scale(-1 1)">
<line x1="-12.6" y1="-28" x2="12.6" y2="-28" stroke="#000" stroke-width="1.5"/>
<line x1="-12.3" y1="-29.9" x2="-12.3" y2="-27.3" stroke="#000" stroke-width="0.9"/>
<line x1="12.3" y1="-29.9" x2="12.3" y2="-27.3" stroke="#000" stroke-width="0.9"/>
<line x1="-6" y1="-29.7" x2="-6" y2="-27.3" stroke="#000" stroke-width="0.9"/>
<line x1="6" y1="-29.7" x2="6" y2="-27.3" stroke="#000" stroke-width="0.9"/>
<line x1="-12.6" y1="-23" x2="12.6" y2="-23" stroke="#000" stroke-width="2"/>
<line x1="-12.3" y1="-28" x2="-12.3" y2="-23" stroke="#000" stroke-width="0.9"/>
<line x1="12.3" y1="-28" x2="12.3" y2="-23" stroke="#000" stroke-width="0.9"/>
<path d="M-10 -26H-4M-7 -25H-2M3 -26H8M5 -25H11" fill="none" stroke="#000" stroke-width="0.9" />
<rect x="-2" y="-29.1" width="4" height="10.6" fill="#000" stroke="#000" stroke-width="0.5"/>
<rect x="-0.5" y="-28.5" width="1" height="1" fill="#fff"/>
<rect x="-0.7" y="-22.9" width="1" height="1" fill="#fff"/>
<rect x="-1.2" y="-18.7" width="2.4" height="3.5" fill="#000" stroke="#000" stroke-width="0.5"/>
<path d="M-5.2 -20.2L-3 -12.4M5.2 -20.2L3.3 -12.6" fill="none" stroke="#000" stroke-width="0.9" />
<path d="M-3.42 12.75 L-1.6 13.92 L0.48 14.51 L2.69 14.71 L4.94 14.52 L7.19 13.96 L9.36 13.03 L11.4 11.74 L13.25 10.13 L14.85 8.22 L16.17 6.05 L17.16 3.66 L17.78 1.12 L18.02 -1.53 L17.85 -4.22 L17.27 -6.89 L16.29 -9.48 L14.91 -11.92 L13.16 -14.16 L11.07 -16.14 L8.68 -17.8" fill="none" stroke="#000" stroke-width="1.2" />
<line x1="-1.48" y1="12.92" x2="-1.6" y2="13.92" stroke="#000" stroke-width="1.2"/>
<line x1="2.34" y1="12.79" x2="2.69" y2="14.71" stroke="#000" stroke-width="1.2"/>
<line x1="5.95" y1="11.56" x2="7.19" y2="13.96" stroke="#000" stroke-width="1.2"/>
<line x1="9.06" y1="9.33" x2="11.4" y2="11.74" stroke="#000" stroke-width="1.2"/>
<line x1="11.38" y1="6.29" x2="14.85" y2="8.22" stroke="#000" stroke-width="1.2"/>
<line x1="12.71" y1="2.71" x2="17.16" y2="3.66" stroke="#000" stroke-width="1.2"/>
<line x1="12.95" y1="-1.1" x2="18.02" y2="-1.53" stroke="#000" stroke-width="1.2"/>
<line x1="12.07" y1="-4.82" x2="17.27" y2="-6.89" stroke="#000" stroke-width="1.2"/>
<line x1="10.15" y1="-8.12" x2="14.91" y2="-11.92" stroke="#000" stroke-width="1.2"/>
<line x1="7.35" y1="-10.72" x2="11.07" y2="-16.14" stroke="#000" stroke-width="1.2"/>
<line x1="8.68" y1="-17.8" x2="5.2" y2="-20.2" stroke="#000" stroke-width="0.9"/>
<circle cx="0" cy="0" r="12.9" fill="none" stroke="#000" stroke-width="1.4"/>
<circle cx="0" cy="0" r="10.5" fill="none" stroke="#000" stroke-width="1.5" stroke-dasharray="1.9 0.9"/>
<circle cx="0" cy="0" r="7.8" fill="#000" stroke="#000" stroke-width="1.2"/>
<circle cx="0" cy="0" r="6.2" fill="none" stroke="#fff" stroke-width="0.5" stroke-dasharray="1.6 2.2"/>
<circle cx="0" cy="0" r="4.2" fill="none" stroke="#fff" stroke-width="0.55" stroke-dasharray="2.4 1.4"/>
<path d="M-4.2 -1.5H-1.4M1.4 -1.5H4.2M-4.2 1.7H-1.4M1.4 1.7H4.2M-2.1 -2.6V-0.6M-2.1 0.8V2.8M2.1 -2.6V-0.6M2.1 0.8V2.8" fill="none" stroke="#fff" stroke-width="0.6" />
<path d="M0 -13V-7M0 7V13" fill="none" stroke="#000" stroke-width="1.3" />
</g>
<rect x="326.45" y="376" width="8.3" height="61" fill="#fff"/>
<rect x="314.5" y="350" width="30.1" height="34.6" fill="none" stroke="#000" stroke-width="1" stroke-dasharray="5 1.6"/>
<path d="M326.45 435.5V376.8A4.15 4.15 0 0 1 334.75 376.8V435.5" fill="#fff" stroke="#000" stroke-width="1" stroke-dasharray="4.5 1.3" />
<path d="M326.45 434V435.6Q326.45 437.2 327.95 437.2H333.25Q334.75 437.2 334.75 435.6V434" fill="none" stroke="#000" stroke-width="1" />
<line x1="330.6" y1="303" x2="330.6" y2="442" stroke="#000" stroke-width="0.9" stroke-dasharray="6 1.6"/>
<line x1="324.4" y1="407.8" x2="324.4" y2="418.7" stroke="#000" stroke-width="1" stroke-dasharray="5 1.2"/>
<line x1="336.5" y1="407.8" x2="336.5" y2="418.7" stroke="#000" stroke-width="1" stroke-dasharray="5 1.2"/>
<line x1="322.2" y1="413.4" x2="324.4" y2="413.4" stroke="#000" stroke-width="0.9"/>
<line x1="336.5" y1="413.4" x2="338.7" y2="413.4" stroke="#000" stroke-width="0.9"/>
<rect x="402.25" y="376" width="8.3" height="61" fill="#fff"/>
<rect x="392.4" y="350" width="30.1" height="34.6" fill="none" stroke="#000" stroke-width="1" stroke-dasharray="5 1.6"/>
<path d="M402.25 435.5V376.8A4.15 4.15 0 0 1 410.55 376.8V435.5" fill="#fff" stroke="#000" stroke-width="1" stroke-dasharray="4.5 1.3" />
<path d="M402.25 434V435.6Q402.25 437.2 403.75 437.2H409.05Q410.55 437.2 410.55 435.6V434" fill="none" stroke="#000" stroke-width="1" />
<line x1="406.4" y1="303" x2="406.4" y2="442" stroke="#000" stroke-width="0.9" stroke-dasharray="6 1.6"/>
<line x1="401.3" y1="407.8" x2="401.3" y2="418.7" stroke="#000" stroke-width="1" stroke-dasharray="5 1.2"/>
<line x1="412.5" y1="407.8" x2="412.5" y2="418.7" stroke="#000" stroke-width="1" stroke-dasharray="5 1.2"/>
<line x1="399.1" y1="413.4" x2="401.3" y2="413.4" stroke="#000" stroke-width="0.9"/>
<line x1="412.5" y1="413.4" x2="414.7" y2="413.4" stroke="#000" stroke-width="0.9"/>
<g transform="translate(330.6 329.3) scale(1 -1)">
<line x1="-12.6" y1="-28" x2="12.6" y2="-28" stroke="#000" stroke-width="1.5"/>
<line x1="-12.3" y1="-29.9" x2="-12.3" y2="-27.3" stroke="#000" stroke-width="0.9"/>
<line x1="12.3" y1="-29.9" x2="12.3" y2="-27.3" stroke="#000" stroke-width="0.9"/>
<line x1="-6" y1="-29.7" x2="-6" y2="-27.3" stroke="#000" stroke-width="0.9"/>
<line x1="6" y1="-29.7" x2="6" y2="-27.3" stroke="#000" stroke-width="0.9"/>
<line x1="-12.6" y1="-23" x2="12.6" y2="-23" stroke="#000" stroke-width="2"/>
<line x1="-12.3" y1="-28" x2="-12.3" y2="-23" stroke="#000" stroke-width="0.9"/>
<line x1="12.3" y1="-28" x2="12.3" y2="-23" stroke="#000" stroke-width="0.9"/>
<path d="M-10 -26H-4M-7 -25H-2M3 -26H8M5 -25H11" fill="none" stroke="#000" stroke-width="0.9" />
<rect x="-2" y="-29.1" width="4" height="10.6" fill="#000" stroke="#000" stroke-width="0.5"/>
<rect x="-0.5" y="-28.5" width="1" height="1" fill="#fff"/>
<rect x="-0.7" y="-22.9" width="1" height="1" fill="#fff"/>
<rect x="-1.2" y="-18.7" width="2.4" height="3.5" fill="#000" stroke="#000" stroke-width="0.5"/>
<path d="M-5.2 -20.2L-3 -12.4M5.2 -20.2L3.3 -12.6" fill="none" stroke="#000" stroke-width="0.9" />
<path d="M-3.42 12.75 L-1.6 13.92 L0.48 14.51 L2.69 14.71 L4.94 14.52 L7.19 13.96 L9.36 13.03 L11.4 11.74 L13.25 10.13 L14.85 8.22 L16.17 6.05 L17.16 3.66 L17.78 1.12 L18.02 -1.53 L17.85 -4.22 L17.27 -6.89 L16.29 -9.48 L14.91 -11.92 L13.16 -14.16 L11.07 -16.14 L8.68 -17.8" fill="none" stroke="#000" stroke-width="1.2" />
<line x1="-1.48" y1="12.92" x2="-1.6" y2="13.92" stroke="#000" stroke-width="1.2"/>
<line x1="2.34" y1="12.79" x2="2.69" y2="14.71" stroke="#000" stroke-width="1.2"/>
<line x1="5.95" y1="11.56" x2="7.19" y2="13.96" stroke="#000" stroke-width="1.2"/>
<line x1="9.06" y1="9.33" x2="11.4" y2="11.74" stroke="#000" stroke-width="1.2"/>
<line x1="11.38" y1="6.29" x2="14.85" y2="8.22" stroke="#000" stroke-width="1.2"/>
<line x1="12.71" y1="2.71" x2="17.16" y2="3.66" stroke="#000" stroke-width="1.2"/>
<line x1="12.95" y1="-1.1" x2="18.02" y2="-1.53" stroke="#000" stroke-width="1.2"/>
<line x1="12.07" y1="-4.82" x2="17.27" y2="-6.89" stroke="#000" stroke-width="1.2"/>
<line x1="10.15" y1="-8.12" x2="14.91" y2="-11.92" stroke="#000" stroke-width="1.2"/>
<line x1="7.35" y1="-10.72" x2="11.07" y2="-16.14" stroke="#000" stroke-width="1.2"/>
<line x1="8.68" y1="-17.8" x2="5.2" y2="-20.2" stroke="#000" stroke-width="0.9"/>
<circle cx="0" cy="0" r="12.9" fill="none" stroke="#000" stroke-width="1.4"/>
<circle cx="0" cy="0" r="10.5" fill="none" stroke="#000" stroke-width="1.5" stroke-dasharray="1.9 0.9"/>
<circle cx="0" cy="0" r="7.8" fill="#000" stroke="#000" stroke-width="1.2"/>
<circle cx="0" cy="0" r="6.2" fill="none" stroke="#fff" stroke-width="0.5" stroke-dasharray="1.6 2.2"/>
<circle cx="0" cy="0" r="4.2" fill="none" stroke="#fff" stroke-width="0.55" stroke-dasharray="2.4 1.4"/>
<path d="M-4.2 -1.5H-1.4M1.4 -1.5H4.2M-4.2 1.7H-1.4M1.4 1.7H4.2M-2.1 -2.6V-0.6M-2.1 0.8V2.8M2.1 -2.6V-0.6M2.1 0.8V2.8" fill="none" stroke="#fff" stroke-width="0.6" />
<path d="M0 -13V-7M0 7V13" fill="none" stroke="#000" stroke-width="1.3" />
</g>
<g transform="translate(406.4 329.3) scale(-1 -1)">
<line x1="-12.6" y1="-28" x2="12.6" y2="-28" stroke="#000" stroke-width="1.5"/>
<line x1="-12.3" y1="-29.9" x2="-12.3" y2="-27.3" stroke="#000" stroke-width="0.9"/>
<line x1="12.3" y1="-29.9" x2="12.3" y2="-27.3" stroke="#000" stroke-width="0.9"/>
<line x1="-6" y1="-29.7" x2="-6" y2="-27.3" stroke="#000" stroke-width="0.9"/>
<line x1="6" y1="-29.7" x2="6" y2="-27.3" stroke="#000" stroke-width="0.9"/>
<line x1="-12.6" y1="-23" x2="12.6" y2="-23" stroke="#000" stroke-width="2"/>
<line x1="-12.3" y1="-28" x2="-12.3" y2="-23" stroke="#000" stroke-width="0.9"/>
<line x1="12.3" y1="-28" x2="12.3" y2="-23" stroke="#000" stroke-width="0.9"/>
<path d="M-10 -26H-4M-7 -25H-2M3 -26H8M5 -25H11" fill="none" stroke="#000" stroke-width="0.9" />
<rect x="-2" y="-29.1" width="4" height="10.6" fill="#000" stroke="#000" stroke-width="0.5"/>
<rect x="-0.5" y="-28.5" width="1" height="1" fill="#fff"/>
<rect x="-0.7" y="-22.9" width="1" height="1" fill="#fff"/>
<rect x="-1.2" y="-18.7" width="2.4" height="3.5" fill="#000" stroke="#000" stroke-width="0.5"/>
<path d="M-5.2 -20.2L-3 -12.4M5.2 -20.2L3.3 -12.6" fill="none" stroke="#000" stroke-width="0.9" />
<path d="M-3.42 12.75 L-1.6 13.92 L0.48 14.51 L2.69 14.71 L4.94 14.52 L7.19 13.96 L9.36 13.03 L11.4 11.74 L13.25 10.13 L14.85 8.22 L16.17 6.05 L17.16 3.66 L17.78 1.12 L18.02 -1.53 L17.85 -4.22 L17.27 -6.89 L16.29 -9.48 L14.91 -11.92 L13.16 -14.16 L11.07 -16.14 L8.68 -17.8" fill="none" stroke="#000" stroke-width="1.2" />
<line x1="-1.48" y1="12.92" x2="-1.6" y2="13.92" stroke="#000" stroke-width="1.2"/>
<line x1="2.34" y1="12.79" x2="2.69" y2="14.71" stroke="#000" stroke-width="1.2"/>
<line x1="5.95" y1="11.56" x2="7.19" y2="13.96" stroke="#000" stroke-width="1.2"/>
<line x1="9.06" y1="9.33" x2="11.4" y2="11.74" stroke="#000" stroke-width="1.2"/>
<line x1="11.38" y1="6.29" x2="14.85" y2="8.22" stroke="#000" stroke-width="1.2"/>
<line x1="12.71" y1="2.71" x2="17.16" y2="3.66" stroke="#000" stroke-width="1.2"/>
<line x1="12.95" y1="-1.1" x2="18.02" y2="-1.53" stroke="#000" stroke-width="1.2"/>
<line x1="12.07" y1="-4.82" x2="17.27" y2="-6.89" stroke="#000" stroke-width="1.2"/>
<line x1="10.15" y1="-8.12" x2="14.91" y2="-11.92" stroke="#000" stroke-width="1.2"/>
<line x1="7.35" y1="-10.72" x2="11.07" y2="-16.14" stroke="#000" stroke-width="1.2"/>
<line x1="8.68" y1="-17.8" x2="5.2" y2="-20.2" stroke="#000" stroke-width="0.9"/>
<circle cx="0" cy="0" r="12.9" fill="none" stroke="#000" stroke-width="1.4"/>
<circle cx="0" cy="0" r="10.5" fill="none" stroke="#000" stroke-width="1.5" stroke-dasharray="1.9 0.9"/>
<circle cx="0" cy="0" r="7.8" fill="#000" stroke="#000" stroke-width="1.2"/>
<circle cx="0" cy="0" r="6.2" fill="none" stroke="#fff" stroke-width="0.5" stroke-dasharray="1.6 2.2"/>
<circle cx="0" cy="0" r="4.2" fill="none" stroke="#fff" stroke-width="0.55" stroke-dasharray="2.4 1.4"/>
<path d="M-4.2 -1.5H-1.4M1.4 -1.5H4.2M-4.2 1.7H-1.4M1.4 1.7H4.2M-2.1 -2.6V-0.6M-2.1 0.8V2.8M2.1 -2.6V-0.6M2.1 0.8V2.8" fill="none" stroke="#fff" stroke-width="0.6" />
<path d="M0 -13V-7M0 7V13" fill="none" stroke="#000" stroke-width="1.3" />
</g>
<line x1="305.3" y1="377.8" x2="352.8" y2="377.8" stroke="#000" stroke-width="1" stroke-dasharray="4 1.5"/>
<line x1="384.3" y1="377.8" x2="433.6" y2="377.8" stroke="#000" stroke-width="1" stroke-dasharray="4 1.5"/>
<text x="322.9" y="434.8" font-size="5.6" fill="#000" font-family='"Liberation Sans","Noto Sans CJK SC",sans-serif' font-weight="bold" transform="rotate(-90 322.9 434.8)" textLength="20.8" lengthAdjust="spacingAndGlyphs" stroke="#000" stroke-width="0.5">DN300X5</text>
<text x="418.9" y="434.8" font-size="5.6" fill="#000" font-family='"Liberation Sans","Noto Sans CJK SC",sans-serif' font-weight="bold" transform="rotate(-90 418.9 434.8)" textLength="20.2" lengthAdjust="spacingAndGlyphs" stroke="#000" stroke-width="0.5">DN300X5</text>
<line x1="410.8" y1="232.2" x2="416.7" y2="238.4" stroke="#000" stroke-width="1"/>
<line x1="416.7" y1="238.4" x2="449.6" y2="238.4" stroke="#000" stroke-width="1"/>
<text x="418.2" y="236.8" font-size="5.1" fill="#000" font-family='"Liberation Sans","Noto Sans CJK SC",sans-serif' font-weight="bold" textLength="6.8" lengthAdjust="spacingAndGlyphs" stroke="#000" stroke-width="0.45">MF</text>
<text x="425.9" y="236.9" font-size="5.2" fill="#777" font-family='"Liberation Serif","Noto Serif CJK SC",serif' >系列污水泵</text>
<text x="419.7" y="244.7" font-size="6.2" fill="#000" font-family='"Liberation Sans","Noto Sans CJK SC",sans-serif' font-weight="bold" textLength="28" lengthAdjust="spacingAndGlyphs" stroke="#000" stroke-width="0.45">8MF—13B</text>
<text x="352.9" y="302.4" font-size="5.2" fill="#777" font-family='"Liberation Serif","Noto Serif CJK SC",serif' >远期预留泵位</text>
<path d="M344.2 318.2L357.2 306.6H379.7L393.6 318.6" fill="none" stroke="#000" stroke-width="1.1" />
<path d="M344.2 318.2l3.6 -1.6l-1.7 -1.9zM393.6 318.6l-3.8 -1.3l1.6 -2z" fill="#000" stroke="#000" stroke-width="0.4" />
<text x="369.1" y="424.9" font-size="6.2" fill="#000" font-family='"Liberation Sans","Noto Sans CJK SC",sans-serif' font-weight="bold" stroke="#000" stroke-width="0.3" text-anchor="middle" textLength="3.2" lengthAdjust="spacingAndGlyphs" >A</text>
<path d="M368.9 428V434.5H360.9" fill="none" stroke="#000" stroke-width="1.1" />
<text x="46.5" y="266.9" font-size="6.2" fill="#000" font-family='"Liberation Sans","Noto Sans CJK SC",sans-serif' font-weight="bold" stroke="#000" stroke-width="0.3" text-anchor="middle" textLength="3.2" lengthAdjust="spacingAndGlyphs" >A</text>
<line x1="46.5" y1="269.3" x2="46.5" y2="275.8" stroke="#000" stroke-width="1.1"/>
<rect x="226.4" y="249.3" width="17" height="47" fill="url(#hc)" stroke="#000" stroke-width="1"/>
<rect x="182" y="255.2" width="53.8" height="7.6" fill="url(#he)"/>
<rect x="122" y="255.2" width="60" height="7.6" fill="url(#hd)"/>
<rect x="122" y="255.2" width="113.8" height="7.6" fill="none" stroke="#000" stroke-width="1"/>
<rect x="122" y="288.2" width="88.4" height="7.9" fill="url(#hd)" stroke="#000" stroke-width="1"/>
<rect x="103.3" y="249.2" width="7.8" height="15.4" fill="url(#hl)" stroke="#000" stroke-width="1"/>
<rect x="103.3" y="286.2" width="7.8" height="14.5" fill="url(#hl)" stroke="#000" stroke-width="1"/>
<path d="M111.2 246V304.6M122 246V255.2M122 296V304Q122 306 120 306H113Q111.2 306 111.2 304.2M113.7 262.7V288.2" fill="none" stroke="#000" stroke-width="1" />
<line x1="115.1" y1="247" x2="115.1" y2="262.5" stroke="#000" stroke-width="0.9" stroke-dasharray="4 1.5"/>
<line x1="115.1" y1="288.4" x2="115.1" y2="306" stroke="#000" stroke-width="0.9" stroke-dasharray="4 1.5"/>
<line x1="115.6" y1="262.5" x2="115.6" y2="288.4" stroke="#000" stroke-width="1"/>
<path d="M111.2 246C111.3 242.6 114.6 242.4 115.6 244.2C116.4 245.8 119.8 246 120 244.4C120.2 243 121.9 243.4 122 246" fill="none" stroke="#000" stroke-width="0.9" />
<circle cx="118.2" cy="244.8" r="1.3" fill="#fff" stroke="#000" stroke-width="0.8"/>
<line x1="115.9" y1="216" x2="115.9" y2="235.8" stroke="#000" stroke-width="1.1"/>
<path d="M115.9 216L117.2 220.8L115.9 220.8z" fill="#000" stroke="#000" stroke-width="0.5" />
<line x1="115.9" y1="316.3" x2="115.9" y2="334.8" stroke="#000" stroke-width="1.1"/>
<path d="M111.2 265.3H87.9M111.2 285.9H87.2" fill="none" stroke="#000" stroke-width="1" />
<path d="M87.9 265.3C84.6 268 84.8 272 88.4 275.4C91.6 272 91.4 268.4 87.9 265.3M88.4 275.4C84.8 278.6 85 282.6 87.2 285.9" fill="none" stroke="#000" stroke-width="1" />
<rect x="115.9" y="262.6" width="6.3" height="25.8" fill="#000"/>
<path d="M117.15 264.2h1.1v1.25h-1.1zM119.85 264.2h1.1v1.25h-1.1zM117.15 266.65h1.1v1.25h-1.1zM119.85 266.65h1.1v1.25h-1.1zM117.15 269.1h1.1v1.25h-1.1zM119.85 269.1h1.1v1.25h-1.1zM117.15 271.55h1.1v1.25h-1.1zM119.85 271.55h1.1v1.25h-1.1zM117.15 274h1.1v1.25h-1.1zM119.85 274h1.1v1.25h-1.1zM117.15 276.45h1.1v1.25h-1.1zM119.85 276.45h1.1v1.25h-1.1zM117.15 278.9h1.1v1.25h-1.1zM119.85 278.9h1.1v1.25h-1.1zM117.15 281.35h1.1v1.25h-1.1zM119.85 281.35h1.1v1.25h-1.1zM117.15 283.8h1.1v1.25h-1.1zM119.85 283.8h1.1v1.25h-1.1zM117.15 286.25h1.1v1.25h-1.1zM119.85 286.25h1.1v1.25h-1.1z" fill="#fff"/>
<rect x="210" y="262.6" width="5.4" height="25.8" fill="#000"/>
<path d="M211.25 264.2h1.1v1.25h-1.1zM213.05 264.2h1.1v1.25h-1.1zM211.25 266.65h1.1v1.25h-1.1zM213.05 266.65h1.1v1.25h-1.1zM211.25 269.1h1.1v1.25h-1.1zM213.05 269.1h1.1v1.25h-1.1zM211.25 271.55h1.1v1.25h-1.1zM213.05 271.55h1.1v1.25h-1.1zM211.25 274h1.1v1.25h-1.1zM213.05 274h1.1v1.25h-1.1zM211.25 276.45h1.1v1.25h-1.1zM213.05 276.45h1.1v1.25h-1.1zM211.25 278.9h1.1v1.25h-1.1zM213.05 278.9h1.1v1.25h-1.1zM211.25 281.35h1.1v1.25h-1.1zM213.05 281.35h1.1v1.25h-1.1zM211.25 283.8h1.1v1.25h-1.1zM213.05 283.8h1.1v1.25h-1.1zM211.25 286.25h1.1v1.25h-1.1zM213.05 286.25h1.1v1.25h-1.1z" fill="#fff"/>
<rect x="220.6" y="262.6" width="5.6" height="25.8" fill="#000"/>
<path d="M221.85 264.2h1.1v1.25h-1.1zM223.85 264.2h1.1v1.25h-1.1zM221.85 266.65h1.1v1.25h-1.1zM223.85 266.65h1.1v1.25h-1.1zM221.85 269.1h1.1v1.25h-1.1zM223.85 269.1h1.1v1.25h-1.1zM221.85 271.55h1.1v1.25h-1.1zM223.85 271.55h1.1v1.25h-1.1zM221.85 274h1.1v1.25h-1.1zM223.85 274h1.1v1.25h-1.1zM221.85 276.45h1.1v1.25h-1.1zM223.85 276.45h1.1v1.25h-1.1zM221.85 278.9h1.1v1.25h-1.1zM223.85 278.9h1.1v1.25h-1.1zM221.85 281.35h1.1v1.25h-1.1zM223.85 281.35h1.1v1.25h-1.1zM221.85 283.8h1.1v1.25h-1.1zM223.85 283.8h1.1v1.25h-1.1zM221.85 286.25h1.1v1.25h-1.1zM223.85 286.25h1.1v1.25h-1.1z" fill="#fff"/>
<rect x="154.6" y="263" width="10.6" height="23.4" fill="#000" stroke="#000" stroke-width="0.6"/>
<line x1="155.2" y1="268.3" x2="164.8" y2="268.3" stroke="#fff" stroke-width="0.9"/>
<line x1="155.2" y1="274.6" x2="164.8" y2="274.6" stroke="#fff" stroke-width="0.9"/>
<line x1="155.2" y1="280.7" x2="164.8" y2="280.7" stroke="#fff" stroke-width="0.9"/>
<line x1="175.2" y1="262.8" x2="175.2" y2="288.2" stroke="#000" stroke-width="0.9"/>
<line x1="173.8" y1="263.6" x2="176.6" y2="263.6" stroke="#000" stroke-width="0.8"/>
<line x1="173.8" y1="287.4" x2="176.6" y2="287.4" stroke="#000" stroke-width="0.8"/>
<text x="173.8" y="282.3" font-size="5.5" fill="#000" font-family='"Liberation Sans","Noto Sans CJK SC",sans-serif' font-weight="bold" stroke="#000" stroke-width="0.3" transform="rotate(-90 173.8 282.3)" textLength="12" lengthAdjust="spacingAndGlyphs" >1100</text>
<line x1="181.2" y1="236.5" x2="181.2" y2="288.6" stroke="#000" stroke-width="1.5"/>
<line x1="170.4" y1="236.4" x2="184.6" y2="236.4" stroke="#000" stroke-width="1.3"/>
<rect x="177.2" y="234.2" width="7.4" height="4" fill="#000" stroke="#000" stroke-width="0.3"/>
<circle cx="170.2" cy="236.5" r="1.2" fill="#fff" stroke="#000" stroke-width="0.8"/>
<text x="186.4" y="237.2" font-size="5.1" fill="#777" font-family='"Liberation Serif","Noto Serif CJK SC",serif' >螺旋输送机</text>
<line x1="184.6" y1="238.9" x2="212.4" y2="238.9" stroke="#000" stroke-width="0.9"/>
<path d="M222 249.2H229.6M227.3 249.2V255" fill="none" stroke="#000" stroke-width="1.1" />
<path d="M211 288.2V316Q211 331.2 226.5 331.2H267.6V316.2H236Q225.3 316.2 225.3 306V288.2" fill="#fff" stroke="none"/>
<path d="M211 296V316Q211 331.2 226.5 331.2H266.5M267.6 316.2H236Q225.3 316.2 225.3 306V296" fill="none" stroke="#000" stroke-width="1" />
<path d="M218.8 263V312Q218.8 324.4 231 324.4H272" fill="none" stroke="#000" stroke-width="0.9" stroke-dasharray="9 1.4" />
<path d="M267.6 316.2C270 318.5 270 321.5 268.2 324C266.4 326.5 266.2 329 267.6 331.2" fill="none" stroke="#000" stroke-width="0.9" />
<circle cx="268.6" cy="327.8" r="1.7" fill="#fff" stroke="#000" stroke-width="0.9"/>
<text x="278.2" y="321.6" font-size="5.2" fill="#777" font-family='"Liberation Serif","Noto Serif CJK SC",serif' >至吸水间</text>
<line x1="278.1" y1="324.5" x2="298" y2="324.5" stroke="#000" stroke-width="1"/>
<path d="M295.2 324.5l-4.2 -1.2v2.4z" fill="#000" stroke="#000" stroke-width="0.4" />
<text x="60.3" y="254.7" font-size="5.1" fill="#777" font-family='"Liberation Serif","Noto Serif CJK SC",serif' >进水总管</text>
<text x="81" y="254.8" font-size="5" fill="#000" font-family='"Liberation Sans","Noto Sans CJK SC",sans-serif' font-weight="bold" stroke="#000" stroke-width="0.3" textLength="18.5" lengthAdjust="spacingAndGlyphs" >DN800</text>
<path d="M61.2 257.3H91L95 264.4" fill="none" stroke="#000" stroke-width="1" />
<text x="123" y="233.6" font-size="5.1" fill="#777" font-family='"Liberation Serif","Noto Serif CJK SC",serif' >溢流管</text>
<text x="123.4" y="239.9" font-size="5.4" fill="#000" font-family='"Liberation Sans","Noto Sans CJK SC",sans-serif' font-weight="bold" stroke="#000" stroke-width="0.3" textLength="16.8" lengthAdjust="spacingAndGlyphs" >DN400</text>
<path d="M147 240.4H123.4L121.8 246.3" fill="none" stroke="#000" stroke-width="0.9" />
<text x="126.8" y="302.3" font-size="5.1" fill="#777" font-family='"Liberation Serif","Noto Serif CJK SC",serif' >来自浓缩池</text>
<path d="M150.8 304.4H126.1L122.4 299" fill="none" stroke="#000" stroke-width="1" />
<text x="126.8" y="309.2" font-size="5" fill="#777" font-family='"Liberation Serif","Noto Serif CJK SC",serif' >污水管</text>
<text x="126.4" y="314.7" font-size="5.2" fill="#000" font-family='"Liberation Sans","Noto Sans CJK SC",sans-serif' font-weight="bold" stroke="#000" stroke-width="0.3" textLength="17.6" lengthAdjust="spacingAndGlyphs" >DN400</text>
<text x="181.4" y="302.5" font-size="5.2" fill="#777" font-family='"Liberation Serif","Noto Serif CJK SC",serif' >泵坑进水管</text>
<path d="M182.1 305.5H206.7L210.2 301.6" fill="none" stroke="#000" stroke-width="1" />
<text x="187.3" y="310.6" font-size="5.5" fill="#000" font-family='"Liberation Sans","Noto Sans CJK SC",sans-serif' font-weight="bold" stroke="#000" stroke-width="0.3" textLength="17.6" lengthAdjust="spacingAndGlyphs" >DN800</text>
<line x1="125.4" y1="323.5" x2="200.8" y2="323.5" stroke="#000" stroke-width="1"/>
<line x1="133.5" y1="336.6" x2="200.2" y2="336.6" stroke="#000" stroke-width="1"/>
<line x1="135" y1="319" x2="135" y2="338.5" stroke="#000" stroke-width="0.9"/>
<line x1="197.6" y1="319" x2="197.6" y2="338.5" stroke="#000" stroke-width="0.9"/>
<line x1="141.5" y1="316" x2="141.5" y2="325.5" stroke="#000" stroke-width="0.9"/>
<line x1="154.3" y1="316" x2="154.3" y2="325.5" stroke="#000" stroke-width="0.9"/>
<line x1="166.3" y1="316" x2="166.3" y2="325.5" stroke="#000" stroke-width="0.9"/>
<line x1="193.8" y1="316" x2="193.8" y2="325.5" stroke="#000" stroke-width="0.9"/>
<text x="126" y="320.6" font-size="6.5" fill="#000" font-family='"Liberation Sans","Noto Sans CJK SC",sans-serif' font-weight="bold" stroke="#000" stroke-width="0.3" textLength="8.5" lengthAdjust="spacingAndGlyphs" >230</text>
<text x="142.6" y="320.6" font-size="6.5" fill="#000" font-family='"Liberation Sans","Noto Sans CJK SC",sans-serif' font-weight="bold" stroke="#000" stroke-width="0.3" textLength="10" lengthAdjust="spacingAndGlyphs" >560</text>
<text x="155.2" y="320.6" font-size="6.5" fill="#000" font-family='"Liberation Sans","Noto Sans CJK SC",sans-serif' font-weight="bold" stroke="#000" stroke-width="0.3" textLength="9.8" lengthAdjust="spacingAndGlyphs" >440</text>
<text x="173" y="320.6" font-size="6.5" fill="#000" font-family='"Liberation Sans","Noto Sans CJK SC",sans-serif' font-weight="bold" stroke="#000" stroke-width="0.3" textLength="13.5" lengthAdjust="spacingAndGlyphs" >1030</text>
<text x="199.2" y="320.6" font-size="6.5" fill="#000" font-family='"Liberation Sans","Noto Sans CJK SC",sans-serif' font-weight="bold" stroke="#000" stroke-width="0.3" textLength="9.5" lengthAdjust="spacingAndGlyphs" >120</text>
<text x="166.4" y="335.2" font-size="5.6" fill="#000" font-family='"Liberation Sans","Noto Sans CJK SC",sans-serif' font-weight="bold" stroke="#000" stroke-width="0.3" text-anchor="middle" textLength="13.5" lengthAdjust="spacingAndGlyphs" >2290</text>
<path d="M133.5 336.6l3 -1v2zM200.2 336.6l-3 -1v2z" fill="#000" stroke="#000" stroke-width="0.4" />
<text x="234.5" y="468" font-size="8.4" fill="#333" font-family='"Liberation Serif","Noto Serif CJK SC",serif' font-weight="500" textLength="124.4" lengthAdjust="spacingAndGlyphs" >中格栅井与污水提升泵房平面图</text>
<line x1="233.2" y1="474.3" x2="357.8" y2="474.3" stroke="#000" stroke-width="1.3"/>
<line x1="233.2" y1="479.6" x2="357.8" y2="479.6" stroke="#000" stroke-width="1.3"/>
<rect x="537.8" y="154.5" width="181.7" height="196.3" fill="none" stroke="#000" stroke-width="1.1"/>
<line x1="537" y1="350.8" x2="720" y2="350.8" stroke="#000" stroke-width="2.2"/>
<line x1="538" y1="154" x2="538" y2="351.9" stroke="#000" stroke-width="2"/>
<line x1="537.8" y1="168.3" x2="719.5" y2="168.3" stroke="#000" stroke-width="1"/>
<line x1="537.8" y1="184.2" x2="719.5" y2="184.2" stroke="#000" stroke-width="1"/>
<line x1="537.8" y1="192.2" x2="719.5" y2="192.2" stroke="#000" stroke-width="1"/>
<line x1="537.8" y1="200.2" x2="719.5" y2="200.2" stroke="#000" stroke-width="1"/>
<line x1="537.8" y1="208.2" x2="719.5" y2="208.2" stroke="#000" stroke-width="1"/>
<line x1="537.8" y1="216.1" x2="719.5" y2="216.1" stroke="#000" stroke-width="1"/>
<line x1="547.2" y1="168.3" x2="547.2" y2="216.1" stroke="#000" stroke-width="1"/>
<line x1="594.5" y1="168.3" x2="594.5" y2="216.1" stroke="#000" stroke-width="1"/>
<line x1="632.7" y1="168.3" x2="632.7" y2="216.1" stroke="#000" stroke-width="1"/>
<line x1="640.8" y1="168.3" x2="640.8" y2="216.1" stroke="#000" stroke-width="1"/>
<line x1="648.4" y1="168.3" x2="648.4" y2="216.1" stroke="#000" stroke-width="1"/>
<line x1="659.8" y1="168.3" x2="659.8" y2="216.1" stroke="#000" stroke-width="1"/>
<line x1="672.9" y1="168.3" x2="672.9" y2="216.1" stroke="#000" stroke-width="1"/>
<line x1="701.6" y1="168.3" x2="701.6" y2="216.1" stroke="#000" stroke-width="1"/>
<line x1="648.4" y1="175.8" x2="672.9" y2="175.8" stroke="#000" stroke-width="0.9"/>
<rect x="658.8" y="168.9" width="2" height="6.4" fill="#fff"/>
<line x1="537.8" y1="230.2" x2="719.5" y2="230.2" stroke="#000" stroke-width="1"/>
<line x1="537.8" y1="246.5" x2="719.5" y2="246.5" stroke="#000" stroke-width="1"/>
<line x1="537.8" y1="254.52" x2="719.5" y2="254.52" stroke="#000" stroke-width="1"/>
<line x1="537.8" y1="262.55" x2="719.5" y2="262.55" stroke="#000" stroke-width="1"/>
<line x1="537.8" y1="270.57" x2="719.5" y2="270.57" stroke="#000" stroke-width="1"/>
<line x1="537.8" y1="278.59" x2="719.5" y2="278.59" stroke="#000" stroke-width="1"/>
<line x1="537.8" y1="286.62" x2="719.5" y2="286.62" stroke="#000" stroke-width="1"/>
<line x1="537.8" y1="294.64" x2="719.5" y2="294.64" stroke="#000" stroke-width="1"/>
<line x1="537.8" y1="302.66" x2="719.5" y2="302.66" stroke="#000" stroke-width="1"/>
<line x1="537.8" y1="310.68" x2="719.5" y2="310.68" stroke="#000" stroke-width="1"/>
<line x1="537.8" y1="318.71" x2="719.5" y2="318.71" stroke="#000" stroke-width="1"/>
<line x1="537.8" y1="326.73" x2="719.5" y2="326.73" stroke="#000" stroke-width="1"/>
<line x1="537.8" y1="334.75" x2="719.5" y2="334.75" stroke="#000" stroke-width="1"/>
<line x1="537.8" y1="342.78" x2="719.5" y2="342.78" stroke="#000" stroke-width="1"/>
<line x1="545.8" y1="230.2" x2="545.8" y2="350.8" stroke="#000" stroke-width="1"/>
<line x1="573.5" y1="230.2" x2="573.5" y2="350.8" stroke="#000" stroke-width="1"/>
<line x1="609.7" y1="230.2" x2="609.7" y2="350.8" stroke="#000" stroke-width="1"/>
<line x1="637.7" y1="230.2" x2="637.7" y2="350.8" stroke="#000" stroke-width="1"/>
<line x1="658.4" y1="230.2" x2="658.4" y2="350.8" stroke="#000" stroke-width="1"/>
<line x1="666.8" y1="230.2" x2="666.8" y2="350.8" stroke="#000" stroke-width="1"/>
<line x1="674.8" y1="230.2" x2="674.8" y2="350.8" stroke="#000" stroke-width="1"/>
<line x1="687.1" y1="230.2" x2="687.1" y2="350.8" stroke="#000" stroke-width="1"/>
<line x1="701.6" y1="230.2" x2="701.6" y2="350.8" stroke="#000" stroke-width="1"/>
<rect x="686.1" y="230.8" width="2" height="7.2" fill="#fff"/>
<line x1="674.8" y1="238.5" x2="701.6" y2="238.5" stroke="#000" stroke-width="0.9"/>
<text x="630" y="160.2" font-size="3.6" fill="#000" font-family='"Liberation Sans","Noto Sans CJK SC",sans-serif' font-weight="bold" text-anchor="middle" letter-spacing="1.35" stroke="#000" stroke-width="0.45">EQUIPMENT LIST</text>
<text x="605" y="167.3" font-size="4.6" fill="#000" font-family='"Liberation Sans","Noto Sans CJK SC",sans-serif' font-weight="bold" text-anchor="middle" stroke="#000" stroke-width="0.45">设</text>
<text x="629.8" y="167.3" font-size="4.6" fill="#000" font-family='"Liberation Sans","Noto Sans CJK SC",sans-serif' font-weight="bold" text-anchor="middle" stroke="#000" stroke-width="0.45">备</text>
<text x="657.6" y="167.3" font-size="4.6" fill="#000" font-family='"Liberation Sans","Noto Sans CJK SC",sans-serif' font-weight="bold" text-anchor="middle" stroke="#000" stroke-width="0.45">表</text>
<text x="630" y="221.8" font-size="3.6" fill="#000" font-family='"Liberation Sans","Noto Sans CJK SC",sans-serif' font-weight="bold" text-anchor="middle" letter-spacing="1.35" stroke="#000" stroke-width="0.45">SPECIFICATION</text>
<text x="605" y="228.8" font-size="4.6" fill="#000" font-family='"Liberation Sans","Noto Sans CJK SC",sans-serif' font-weight="bold" text-anchor="middle" stroke="#000" stroke-width="0.45">材</text>
<text x="629.8" y="228.8" font-size="4.6" fill="#000" font-family='"Liberation Sans","Noto Sans CJK SC",sans-serif' font-weight="bold" text-anchor="middle" stroke="#000" stroke-width="0.45">料</text>
<text x="657.6" y="228.8" font-size="4.6" fill="#000" font-family='"Liberation Sans","Noto Sans CJK SC",sans-serif' font-weight="bold" text-anchor="middle" stroke="#000" stroke-width="0.45">表</text>
<text x="542.5" y="174" font-size="3.5" fill="#000" font-family='"Liberation Sans","Noto Sans CJK SC",sans-serif' font-weight="bold" text-anchor="middle" textLength="6" lengthAdjust="spacingAndGlyphs" stroke="#000" stroke-width="0.45">NO.</text>
<text x="542.5" y="180" font-size="4" fill="#000" font-family='"Liberation Sans","Noto Sans CJK SC",sans-serif' font-weight="bold" text-anchor="middle" textLength="6.5" lengthAdjust="spacingAndGlyphs" stroke="#000" stroke-width="0.45">序号</text>
<text x="570.85" y="173.9" font-size="3.5" fill="#000" font-family='"Liberation Sans","Noto Sans CJK SC",sans-serif' font-weight="bold" text-anchor="middle" textLength="20" lengthAdjust="spacingAndGlyphs" stroke="#000" stroke-width="0.45">DESCRIPTION</text>
<text x="570.85" y="179.8" font-size="4" fill="#000" font-family='"Liberation Sans","Noto Sans CJK SC",sans-serif' font-weight="bold" text-anchor="middle" textLength="20" lengthAdjust="spacingAndGlyphs" stroke="#000" stroke-width="0.45">名　　　称</text>
<text x="613.6" y="173.9" font-size="3.5" fill="#000" font-family='"Liberation Sans","Noto Sans CJK SC",sans-serif' font-weight="bold" text-anchor="middle" textLength="35.5" lengthAdjust="spacingAndGlyphs" stroke="#000" stroke-width="0.45">TYPE AND SPECIFICATION</text>
<text x="613.6" y="179.8" font-size="4" fill="#000" font-family='"Liberation Sans","Noto Sans CJK SC",sans-serif' font-weight="bold" text-anchor="middle" textLength="24" lengthAdjust="spacingAndGlyphs" stroke="#000" stroke-width="0.45">型 号 及 规 格</text>
<text x="636.75" y="174" font-size="3.5" fill="#000" font-family='"Liberation Sans","Noto Sans CJK SC",sans-serif' font-weight="bold" text-anchor="middle" textLength="6" lengthAdjust="spacingAndGlyphs" stroke="#000" stroke-width="0.45">UNIT</text>
<text x="636.75" y="180" font-size="4" fill="#000" font-family='"Liberation Sans","Noto Sans CJK SC",sans-serif' font-weight="bold" text-anchor="middle" textLength="6" lengthAdjust="spacingAndGlyphs" stroke="#000" stroke-width="0.45">单位</text>
<text x="644.6" y="174" font-size="3.5" fill="#000" font-family='"Liberation Sans","Noto Sans CJK SC",sans-serif' font-weight="bold" text-anchor="middle" textLength="6" lengthAdjust="spacingAndGlyphs" stroke="#000" stroke-width="0.45">QTY</text>
<text x="644.6" y="180" font-size="4" fill="#000" font-family='"Liberation Sans","Noto Sans CJK SC",sans-serif' font-weight="bold" text-anchor="middle" textLength="6" lengthAdjust="spacingAndGlyphs" stroke="#000" stroke-width="0.45">数量</text>
<text x="664.5" y="173.4" font-size="3.5" fill="#000" font-family='"Liberation Sans","Noto Sans CJK SC",sans-serif' font-weight="bold" text-anchor="middle" textLength="13" lengthAdjust="spacingAndGlyphs" stroke="#000" stroke-width="0.45">WT (kg)</text>
<text x="654.2" y="181.2" font-size="3.8" fill="#000" font-family='"Liberation Sans","Noto Sans CJK SC",sans-serif' font-weight="bold" text-anchor="middle" textLength="7" lengthAdjust="spacingAndGlyphs" stroke="#000" stroke-width="0.45">单重</text>
<text x="666.4" y="181.2" font-size="3.8" fill="#000" font-family='"Liberation Sans","Noto Sans CJK SC",sans-serif' font-weight="bold" text-anchor="middle" textLength="7" lengthAdjust="spacingAndGlyphs" stroke="#000" stroke-width="0.45">总重</text>
<text x="687.3" y="171.4" font-size="3.3" fill="#000" font-family='"Liberation Sans","Noto Sans CJK SC",sans-serif' font-weight="bold" text-anchor="middle" textLength="12" lengthAdjust="spacingAndGlyphs" stroke="#000" stroke-width="0.45">MANUF. &amp;</text>
<text x="687.3" y="175.3" font-size="3.6" fill="#000" font-family='"Liberation Sans","Noto Sans CJK SC",sans-serif' font-weight="bold" text-anchor="middle" textLength="25" lengthAdjust="spacingAndGlyphs" stroke="#000" stroke-width="0.45">REFERENCE或标准图</text>
<text x="687.3" y="180.3" font-size="3.8" fill="#000" font-family='"Liberation Sans","Noto Sans CJK SC",sans-serif' font-weight="bold" text-anchor="middle" textLength="20" lengthAdjust="spacingAndGlyphs" stroke="#000" stroke-width="0.45">制造厂或图号</text>
<text x="710.55" y="173.9" font-size="3.5" fill="#000" font-family='"Liberation Sans","Noto Sans CJK SC",sans-serif' font-weight="bold" text-anchor="middle" textLength="13" lengthAdjust="spacingAndGlyphs" stroke="#000" stroke-width="0.45">REMARKS</text>
<text x="710.55" y="179.8" font-size="4" fill="#000" font-family='"Liberation Sans","Noto Sans CJK SC",sans-serif' font-weight="bold" text-anchor="middle" textLength="10" lengthAdjust="spacingAndGlyphs" stroke="#000" stroke-width="0.45">备 注</text>
<text x="542.5" y="190.5" font-size="5.6" fill="#000" font-family='"Liberation Sans","Noto Sans CJK SC",sans-serif' font-weight="bold" text-anchor="middle" stroke="#000" stroke-width="0.4">1</text>
<text x="548.2" y="190.5" font-size="5.4" fill="#000" font-family='"Liberation Sans","Noto Sans CJK SC",sans-serif' font-weight="bold" textLength="32.2" lengthAdjust="spacingAndGlyphs" stroke="#000" stroke-width="0.4">格栅除污机设备</text>
<text x="595.5" y="186.9" font-size="3.5" fill="#000" font-family='"Liberation Sans","Noto Sans CJK SC",sans-serif' font-weight="bold" textLength="35.5" lengthAdjust="spacingAndGlyphs" stroke="#000" stroke-width="0.45">HF-500型 B=500, b=20, a=75</text>
<text x="595.5" y="190.9" font-size="3.5" fill="#000" font-family='"Liberation Sans","Noto Sans CJK SC",sans-serif' font-weight="bold" textLength="17" lengthAdjust="spacingAndGlyphs" stroke="#000" stroke-width="0.45">N=0.75kW</text>
<text x="636.75" y="190.5" font-size="5.6" fill="#000" font-family='"Liberation Sans","Noto Sans CJK SC",sans-serif' font-weight="bold" text-anchor="middle" stroke="#000" stroke-width="0.4">台</text>
<text x="644.6" y="190.5" font-size="5.6" fill="#000" font-family='"Liberation Sans","Noto Sans CJK SC",sans-serif' font-weight="bold" text-anchor="middle" stroke="#000" stroke-width="0.4">1</text>
<text x="673.9" y="190.5" font-size="5.4" fill="#000" font-family='"Liberation Sans","Noto Sans CJK SC",sans-serif' font-weight="bold" textLength="26.7" lengthAdjust="spacingAndGlyphs" stroke="#000" stroke-width="0.4">由设备厂家配套供货</text>
<text x="542.5" y="198.5" font-size="5.6" fill="#000" font-family='"Liberation Sans","Noto Sans CJK SC",sans-serif' font-weight="bold" text-anchor="middle" stroke="#000" stroke-width="0.4">2</text>
<text x="548.2" y="198.5" font-size="5.4" fill="#000" font-family='"Liberation Sans","Noto Sans CJK SC",sans-serif' font-weight="bold" textLength="30.8" lengthAdjust="spacingAndGlyphs" stroke="#000" stroke-width="0.4">MF 潜水排污泵</text>
<text x="595.5" y="194.9" font-size="3.5" fill="#000" font-family='"Liberation Sans","Noto Sans CJK SC",sans-serif' font-weight="bold" textLength="24" lengthAdjust="spacingAndGlyphs" stroke="#000" stroke-width="0.45">8MF-13B Q=280</text>
<text x="595.5" y="198.9" font-size="3.5" fill="#000" font-family='"Liberation Sans","Noto Sans CJK SC",sans-serif' font-weight="bold" textLength="27" lengthAdjust="spacingAndGlyphs" stroke="#000" stroke-width="0.45">H=13.5m N=22kW</text>
<text x="636.75" y="198.5" font-size="5.6" fill="#000" font-family='"Liberation Sans","Noto Sans CJK SC",sans-serif' font-weight="bold" text-anchor="middle" stroke="#000" stroke-width="0.4">台</text>
<text x="644.6" y="198.5" font-size="5.6" fill="#000" font-family='"Liberation Sans","Noto Sans CJK SC",sans-serif' font-weight="bold" text-anchor="middle" stroke="#000" stroke-width="0.4">3</text>
<text x="649.4" y="198.5" font-size="5.4" fill="#000" font-family='"Liberation Sans","Noto Sans CJK SC",sans-serif' font-weight="bold" textLength="7.8" lengthAdjust="spacingAndGlyphs" stroke="#000" stroke-width="0.4">430</text>
<text x="660.8" y="198.5" font-size="5.4" fill="#000" font-family='"Liberation Sans","Noto Sans CJK SC",sans-serif' font-weight="bold" textLength="10.4" lengthAdjust="spacingAndGlyphs" stroke="#000" stroke-width="0.4">1440</text>
<text x="673.9" y="198.5" font-size="5.4" fill="#000" font-family='"Liberation Sans","Noto Sans CJK SC",sans-serif' font-weight="bold" textLength="26.7" lengthAdjust="spacingAndGlyphs" stroke="#000" stroke-width="0.4">上海水泵厂配套供货</text>
<text x="702.6" y="198.5" font-size="5.4" fill="#000" font-family='"Liberation Sans","Noto Sans CJK SC",sans-serif' font-weight="bold" textLength="14.4" lengthAdjust="spacingAndGlyphs" stroke="#000" stroke-width="0.4">2用1备</text>
<text x="542.5" y="206.5" font-size="5.6" fill="#000" font-family='"Liberation Sans","Noto Sans CJK SC",sans-serif' font-weight="bold" text-anchor="middle" stroke="#000" stroke-width="0.4">3</text>
<text x="548.2" y="206.5" font-size="5.4" fill="#000" font-family='"Liberation Sans","Noto Sans CJK SC",sans-serif' font-weight="bold" textLength="36" lengthAdjust="spacingAndGlyphs" stroke="#000" stroke-width="0.4">螺旋输送机LS260</text>
<text x="595.5" y="206.5" font-size="5.4" fill="#000" font-family='"Liberation Sans","Noto Sans CJK SC",sans-serif' font-weight="bold" textLength="31.2" lengthAdjust="spacingAndGlyphs" stroke="#000" stroke-width="0.4">L=5m N=1.5kW</text>
<text x="636.75" y="206.5" font-size="5.6" fill="#000" font-family='"Liberation Sans","Noto Sans CJK SC",sans-serif' font-weight="bold" text-anchor="middle" stroke="#000" stroke-width="0.4">台</text>
<text x="644.6" y="206.5" font-size="5.6" fill="#000" font-family='"Liberation Sans","Noto Sans CJK SC",sans-serif' font-weight="bold" text-anchor="middle" stroke="#000" stroke-width="0.4">1</text>
<text x="673.9" y="206.5" font-size="5.4" fill="#000" font-family='"Liberation Sans","Noto Sans CJK SC",sans-serif' font-weight="bold" textLength="26.7" lengthAdjust="spacingAndGlyphs" stroke="#000" stroke-width="0.4">由设备厂家配套</text>
<text x="542.5" y="214.4" font-size="5.6" fill="#000" font-family='"Liberation Sans","Noto Sans CJK SC",sans-serif' font-weight="bold" text-anchor="middle" stroke="#000" stroke-width="0.4">4</text>
<text x="548.2" y="214.4" font-size="5.4" fill="#000" font-family='"Liberation Sans","Noto Sans CJK SC",sans-serif' font-weight="bold" textLength="23" lengthAdjust="spacingAndGlyphs" stroke="#000" stroke-width="0.4">手电动葫芦</text>
<text x="595.5" y="214.4" font-size="5.4" fill="#000" font-family='"Liberation Sans","Noto Sans CJK SC",sans-serif' font-weight="bold" textLength="36.2" lengthAdjust="spacingAndGlyphs" stroke="#000" stroke-width="0.4">CD1-2-6 N=3kW/0.4kW</text>
<text x="636.75" y="214.4" font-size="5.6" fill="#000" font-family='"Liberation Sans","Noto Sans CJK SC",sans-serif' font-weight="bold" text-anchor="middle" stroke="#000" stroke-width="0.4">台</text>
<text x="644.6" y="214.4" font-size="5.6" fill="#000" font-family='"Liberation Sans","Noto Sans CJK SC",sans-serif' font-weight="bold" text-anchor="middle" stroke="#000" stroke-width="0.4">1</text>
<text x="673.9" y="214.4" font-size="5.4" fill="#000" font-family='"Liberation Sans","Noto Sans CJK SC",sans-serif' font-weight="bold" textLength="26.7" lengthAdjust="spacingAndGlyphs" stroke="#000" stroke-width="0.4">由设备厂家配套</text>
<text x="541.8" y="236.4" font-size="3.5" fill="#000" font-family='"Liberation Sans","Noto Sans CJK SC",sans-serif' font-weight="bold" text-anchor="middle" textLength="5.6" lengthAdjust="spacingAndGlyphs" stroke="#000" stroke-width="0.45">NO.</text>
<text x="541.8" y="242.6" font-size="4" fill="#000" font-family='"Liberation Sans","Noto Sans CJK SC",sans-serif' font-weight="bold" text-anchor="middle" textLength="6" lengthAdjust="spacingAndGlyphs" stroke="#000" stroke-width="0.45">序号</text>
<text x="560.6" y="234.9" font-size="3.4" fill="#000" font-family='"Liberation Sans","Noto Sans CJK SC",sans-serif' font-weight="bold" text-anchor="middle" textLength="18" lengthAdjust="spacingAndGlyphs" stroke="#000" stroke-width="0.45">DRAWING NO.</text>
<text x="560.6" y="239" font-size="3.7" fill="#000" font-family='"Liberation Sans","Noto Sans CJK SC",sans-serif' font-weight="bold" text-anchor="middle" textLength="12" lengthAdjust="spacingAndGlyphs" stroke="#000" stroke-width="0.45">图号或</text>
<text x="562" y="243" font-size="3.7" fill="#000" font-family='"Liberation Sans","Noto Sans CJK SC",sans-serif' font-weight="bold" text-anchor="middle" textLength="16" lengthAdjust="spacingAndGlyphs" stroke="#000" stroke-width="0.45">标准图号</text>
<text x="591.6" y="235.8" font-size="3.5" fill="#000" font-family='"Liberation Sans","Noto Sans CJK SC",sans-serif' font-weight="bold" text-anchor="middle" textLength="18.6" lengthAdjust="spacingAndGlyphs" stroke="#000" stroke-width="0.45">DESCRIPTION</text>
<text x="591.6" y="241.9" font-size="4" fill="#000" font-family='"Liberation Sans","Noto Sans CJK SC",sans-serif' font-weight="bold" text-anchor="middle" textLength="18" lengthAdjust="spacingAndGlyphs" stroke="#000" stroke-width="0.45">名　　称</text>
<text x="623.7" y="235.8" font-size="3.5" fill="#000" font-family='"Liberation Sans","Noto Sans CJK SC",sans-serif' font-weight="bold" text-anchor="middle" textLength="7" lengthAdjust="spacingAndGlyphs" stroke="#000" stroke-width="0.45">SIZE</text>
<text x="623.7" y="241.9" font-size="4" fill="#000" font-family='"Liberation Sans","Noto Sans CJK SC",sans-serif' font-weight="bold" text-anchor="middle" textLength="13" lengthAdjust="spacingAndGlyphs" stroke="#000" stroke-width="0.45">规　格</text>
<text x="648.05" y="235.6" font-size="3.5" fill="#000" font-family='"Liberation Sans","Noto Sans CJK SC",sans-serif' font-weight="bold" text-anchor="middle" textLength="12.8" lengthAdjust="spacingAndGlyphs" stroke="#000" stroke-width="0.45">MATERIAL</text>
<text x="648.05" y="241.9" font-size="4" fill="#000" font-family='"Liberation Sans","Noto Sans CJK SC",sans-serif' font-weight="bold" text-anchor="middle" textLength="11" lengthAdjust="spacingAndGlyphs" stroke="#000" stroke-width="0.45">材　料</text>
<text x="662.6" y="236.4" font-size="3.5" fill="#000" font-family='"Liberation Sans","Noto Sans CJK SC",sans-serif' font-weight="bold" text-anchor="middle" textLength="6" lengthAdjust="spacingAndGlyphs" stroke="#000" stroke-width="0.45">UNIT</text>
<text x="662.6" y="242.6" font-size="4" fill="#000" font-family='"Liberation Sans","Noto Sans CJK SC",sans-serif' font-weight="bold" text-anchor="middle" textLength="6" lengthAdjust="spacingAndGlyphs" stroke="#000" stroke-width="0.45">单位</text>
<text x="670.8" y="236.4" font-size="3.5" fill="#000" font-family='"Liberation Sans","Noto Sans CJK SC",sans-serif' font-weight="bold" text-anchor="middle" textLength="6" lengthAdjust="spacingAndGlyphs" stroke="#000" stroke-width="0.45">QTY</text>
<text x="670.8" y="242.6" font-size="4" fill="#000" font-family='"Liberation Sans","Noto Sans CJK SC",sans-serif' font-weight="bold" text-anchor="middle" textLength="6" lengthAdjust="spacingAndGlyphs" stroke="#000" stroke-width="0.45">数量</text>
<text x="690.5" y="235.6" font-size="3.5" fill="#000" font-family='"Liberation Sans","Noto Sans CJK SC",sans-serif' font-weight="bold" text-anchor="middle" textLength="14" lengthAdjust="spacingAndGlyphs" stroke="#000" stroke-width="0.45">WT (kg)</text>
<text x="681" y="243.6" font-size="3.8" fill="#000" font-family='"Liberation Sans","Noto Sans CJK SC",sans-serif' font-weight="bold" text-anchor="middle" textLength="7" lengthAdjust="spacingAndGlyphs" stroke="#000" stroke-width="0.45">单重</text>
<text x="694.3" y="243.6" font-size="3.8" fill="#000" font-family='"Liberation Sans","Noto Sans CJK SC",sans-serif' font-weight="bold" text-anchor="middle" textLength="7" lengthAdjust="spacingAndGlyphs" stroke="#000" stroke-width="0.45">总重</text>
<text x="710.55" y="235.6" font-size="3.5" fill="#000" font-family='"Liberation Sans","Noto Sans CJK SC",sans-serif' font-weight="bold" text-anchor="middle" textLength="13" lengthAdjust="spacingAndGlyphs" stroke="#000" stroke-width="0.45">REMARKS</text>
<text x="710.55" y="241.9" font-size="4" fill="#000" font-family='"Liberation Sans","Noto Sans CJK SC",sans-serif' font-weight="bold" text-anchor="middle" textLength="10" lengthAdjust="spacingAndGlyphs" stroke="#000" stroke-width="0.45">备 注</text>
<text x="541.8" y="252.82" font-size="5.6" fill="#000" font-family='"Liberation Sans","Noto Sans CJK SC",sans-serif' font-weight="bold" text-anchor="middle" textLength="2.9" lengthAdjust="spacingAndGlyphs" stroke="#000" stroke-width="0.4">1</text>
<text x="574.5" y="252.82" font-size="5.6" fill="#000" font-family='"Liberation Sans","Noto Sans CJK SC",sans-serif' font-weight="bold" textLength="9.6" lengthAdjust="spacingAndGlyphs" stroke="#000" stroke-width="0.4">钢管</text>
<text x="610.7" y="252.82" font-size="5.6" fill="#000" font-family='"Liberation Sans","Noto Sans CJK SC",sans-serif' font-weight="bold" textLength="17.4" lengthAdjust="spacingAndGlyphs" stroke="#000" stroke-width="0.4">D530X9</text>
<text x="662.6" y="252.82" font-size="5.6" fill="#000" font-family='"Liberation Sans","Noto Sans CJK SC",sans-serif' font-weight="bold" text-anchor="middle" textLength="2.9" lengthAdjust="spacingAndGlyphs" stroke="#000" stroke-width="0.4">m</text>
<text x="670.8" y="252.82" font-size="5.6" fill="#000" font-family='"Liberation Sans","Noto Sans CJK SC",sans-serif' font-weight="bold" text-anchor="middle" textLength="5.8" lengthAdjust="spacingAndGlyphs" stroke="#000" stroke-width="0.4">15</text>
<text x="675.8" y="252.82" font-size="5.6" fill="#000" font-family='"Liberation Sans","Noto Sans CJK SC",sans-serif' font-weight="bold" textLength="8.7" lengthAdjust="spacingAndGlyphs" stroke="#000" stroke-width="0.4">118</text>
<text x="688.1" y="252.82" font-size="5.6" fill="#000" font-family='"Liberation Sans","Noto Sans CJK SC",sans-serif' font-weight="bold" textLength="8.7" lengthAdjust="spacingAndGlyphs" stroke="#000" stroke-width="0.4">271</text>
<text x="541.8" y="260.85" font-size="5.6" fill="#000" font-family='"Liberation Sans","Noto Sans CJK SC",sans-serif' font-weight="bold" text-anchor="middle" textLength="2.9" lengthAdjust="spacingAndGlyphs" stroke="#000" stroke-width="0.4">2</text>
<text x="574.5" y="260.85" font-size="5.6" fill="#000" font-family='"Liberation Sans","Noto Sans CJK SC",sans-serif' font-weight="bold" textLength="9.6" lengthAdjust="spacingAndGlyphs" stroke="#000" stroke-width="0.4">钢管</text>
<text x="610.7" y="260.85" font-size="5.6" fill="#000" font-family='"Liberation Sans","Noto Sans CJK SC",sans-serif' font-weight="bold" textLength="17.4" lengthAdjust="spacingAndGlyphs" stroke="#000" stroke-width="0.4">D325X8</text>
<text x="662.6" y="260.85" font-size="5.6" fill="#000" font-family='"Liberation Sans","Noto Sans CJK SC",sans-serif' font-weight="bold" text-anchor="middle" textLength="2.9" lengthAdjust="spacingAndGlyphs" stroke="#000" stroke-width="0.4">m</text>
<text x="670.8" y="260.85" font-size="5.6" fill="#000" font-family='"Liberation Sans","Noto Sans CJK SC",sans-serif' font-weight="bold" text-anchor="middle" textLength="5.8" lengthAdjust="spacingAndGlyphs" stroke="#000" stroke-width="0.4">15</text>
<text x="675.8" y="260.85" font-size="5.6" fill="#000" font-family='"Liberation Sans","Noto Sans CJK SC",sans-serif' font-weight="bold" textLength="10.3" lengthAdjust="spacingAndGlyphs" stroke="#000" stroke-width="0.4">11.62</text>
<text x="688.1" y="260.85" font-size="5.6" fill="#000" font-family='"Liberation Sans","Noto Sans CJK SC",sans-serif' font-weight="bold" textLength="12.5" lengthAdjust="spacingAndGlyphs" stroke="#000" stroke-width="0.4">173.45</text>
<text x="541.8" y="268.87" font-size="5.6" fill="#000" font-family='"Liberation Sans","Noto Sans CJK SC",sans-serif' font-weight="bold" text-anchor="middle" textLength="2.9" lengthAdjust="spacingAndGlyphs" stroke="#000" stroke-width="0.4">3</text>
<text x="574.5" y="268.87" font-size="5.6" fill="#000" font-family='"Liberation Sans","Noto Sans CJK SC",sans-serif' font-weight="bold" textLength="9.6" lengthAdjust="spacingAndGlyphs" stroke="#000" stroke-width="0.4">钢管</text>
<text x="610.7" y="268.87" font-size="5.6" fill="#000" font-family='"Liberation Sans","Noto Sans CJK SC",sans-serif' font-weight="bold" textLength="23.2" lengthAdjust="spacingAndGlyphs" stroke="#000" stroke-width="0.4">D325X7.5</text>
<text x="662.6" y="268.87" font-size="5.6" fill="#000" font-family='"Liberation Sans","Noto Sans CJK SC",sans-serif' font-weight="bold" text-anchor="middle" textLength="2.9" lengthAdjust="spacingAndGlyphs" stroke="#000" stroke-width="0.4">m</text>
<text x="670.8" y="268.87" font-size="5.6" fill="#000" font-family='"Liberation Sans","Noto Sans CJK SC",sans-serif' font-weight="bold" text-anchor="middle" textLength="5.8" lengthAdjust="spacingAndGlyphs" stroke="#000" stroke-width="0.4">21</text>
<text x="675.8" y="268.87" font-size="5.6" fill="#000" font-family='"Liberation Sans","Noto Sans CJK SC",sans-serif' font-weight="bold" textLength="10.3" lengthAdjust="spacingAndGlyphs" stroke="#000" stroke-width="0.4">58.78</text>
<text x="688.1" y="268.87" font-size="5.6" fill="#000" font-family='"Liberation Sans","Noto Sans CJK SC",sans-serif' font-weight="bold" textLength="12.5" lengthAdjust="spacingAndGlyphs" stroke="#000" stroke-width="0.4">1234.1</text>
<text x="541.8" y="276.89" font-size="5.6" fill="#000" font-family='"Liberation Sans","Noto Sans CJK SC",sans-serif' font-weight="bold" text-anchor="middle" textLength="2.9" lengthAdjust="spacingAndGlyphs" stroke="#000" stroke-width="0.4">4</text>
<text x="574.5" y="276.89" font-size="5.6" fill="#000" font-family='"Liberation Sans","Noto Sans CJK SC",sans-serif' font-weight="bold" textLength="9.6" lengthAdjust="spacingAndGlyphs" stroke="#000" stroke-width="0.4">钢管</text>
<text x="610.7" y="276.89" font-size="5.6" fill="#000" font-family='"Liberation Sans","Noto Sans CJK SC",sans-serif' font-weight="bold" textLength="17.4" lengthAdjust="spacingAndGlyphs" stroke="#000" stroke-width="0.4">D219X6</text>
<text x="662.6" y="276.89" font-size="5.6" fill="#000" font-family='"Liberation Sans","Noto Sans CJK SC",sans-serif' font-weight="bold" text-anchor="middle" textLength="2.9" lengthAdjust="spacingAndGlyphs" stroke="#000" stroke-width="0.4">m</text>
<text x="670.8" y="276.89" font-size="5.6" fill="#000" font-family='"Liberation Sans","Noto Sans CJK SC",sans-serif' font-weight="bold" text-anchor="middle" textLength="5.8" lengthAdjust="spacingAndGlyphs" stroke="#000" stroke-width="0.4">15</text>
<text x="675.8" y="276.89" font-size="5.6" fill="#000" font-family='"Liberation Sans","Noto Sans CJK SC",sans-serif' font-weight="bold" textLength="10.3" lengthAdjust="spacingAndGlyphs" stroke="#000" stroke-width="0.4">31.52</text>
<text x="688.1" y="276.89" font-size="5.6" fill="#000" font-family='"Liberation Sans","Noto Sans CJK SC",sans-serif' font-weight="bold" textLength="12.5" lengthAdjust="spacingAndGlyphs" stroke="#000" stroke-width="0.4">47.88</text>
<text x="541.8" y="284.92" font-size="5.6" fill="#000" font-family='"Liberation Sans","Noto Sans CJK SC",sans-serif' font-weight="bold" text-anchor="middle" textLength="2.9" lengthAdjust="spacingAndGlyphs" stroke="#000" stroke-width="0.4">5</text>
<text x="546.8" y="284.92" font-size="5.6" fill="#000" font-family='"Liberation Sans","Noto Sans CJK SC",sans-serif' font-weight="bold" textLength="23.2" lengthAdjust="spacingAndGlyphs" stroke="#000" stroke-width="0.4">S312-8-7</text>
<text x="574.5" y="284.92" font-size="5.6" fill="#000" font-family='"Liberation Sans","Noto Sans CJK SC",sans-serif' font-weight="bold" textLength="28.8" lengthAdjust="spacingAndGlyphs" stroke="#000" stroke-width="0.4">刚性防水套管</text>
<text x="610.7" y="284.92" font-size="5.6" fill="#000" font-family='"Liberation Sans","Noto Sans CJK SC",sans-serif' font-weight="bold" textLength="14.5" lengthAdjust="spacingAndGlyphs" stroke="#000" stroke-width="0.4">DN800</text>
<text x="662.6" y="284.92" font-size="5.6" fill="#000" font-family='"Liberation Sans","Noto Sans CJK SC",sans-serif' font-weight="bold" text-anchor="middle" textLength="4.8" lengthAdjust="spacingAndGlyphs" stroke="#000" stroke-width="0.4">个</text>
<text x="670.8" y="284.92" font-size="5.6" fill="#000" font-family='"Liberation Sans","Noto Sans CJK SC",sans-serif' font-weight="bold" text-anchor="middle" textLength="2.9" lengthAdjust="spacingAndGlyphs" stroke="#000" stroke-width="0.4">1</text>
<text x="675.8" y="284.92" font-size="5.6" fill="#000" font-family='"Liberation Sans","Noto Sans CJK SC",sans-serif' font-weight="bold" textLength="10.3" lengthAdjust="spacingAndGlyphs" stroke="#000" stroke-width="0.4">63.71</text>
<text x="688.1" y="284.92" font-size="5.6" fill="#000" font-family='"Liberation Sans","Noto Sans CJK SC",sans-serif' font-weight="bold" textLength="12.5" lengthAdjust="spacingAndGlyphs" stroke="#000" stroke-width="0.4">63.71</text>
<text x="541.8" y="292.94" font-size="5.6" fill="#000" font-family='"Liberation Sans","Noto Sans CJK SC",sans-serif' font-weight="bold" text-anchor="middle" textLength="2.9" lengthAdjust="spacingAndGlyphs" stroke="#000" stroke-width="0.4">6</text>
<text x="546.8" y="292.94" font-size="5.6" fill="#000" font-family='"Liberation Sans","Noto Sans CJK SC",sans-serif' font-weight="bold" textLength="23.2" lengthAdjust="spacingAndGlyphs" stroke="#000" stroke-width="0.4">S312-8-7</text>
<text x="574.5" y="292.94" font-size="5.6" fill="#000" font-family='"Liberation Sans","Noto Sans CJK SC",sans-serif' font-weight="bold" textLength="28.8" lengthAdjust="spacingAndGlyphs" stroke="#000" stroke-width="0.4">刚性防水套管</text>
<text x="610.7" y="292.94" font-size="5.6" fill="#000" font-family='"Liberation Sans","Noto Sans CJK SC",sans-serif' font-weight="bold" textLength="14.5" lengthAdjust="spacingAndGlyphs" stroke="#000" stroke-width="0.4">DN500</text>
<text x="662.6" y="292.94" font-size="5.6" fill="#000" font-family='"Liberation Sans","Noto Sans CJK SC",sans-serif' font-weight="bold" text-anchor="middle" textLength="4.8" lengthAdjust="spacingAndGlyphs" stroke="#000" stroke-width="0.4">个</text>
<text x="670.8" y="292.94" font-size="5.6" fill="#000" font-family='"Liberation Sans","Noto Sans CJK SC",sans-serif' font-weight="bold" text-anchor="middle" textLength="2.9" lengthAdjust="spacingAndGlyphs" stroke="#000" stroke-width="0.4">1</text>
<text x="675.8" y="292.94" font-size="5.6" fill="#000" font-family='"Liberation Sans","Noto Sans CJK SC",sans-serif' font-weight="bold" textLength="10.3" lengthAdjust="spacingAndGlyphs" stroke="#000" stroke-width="0.4">48.14</text>
<text x="688.1" y="292.94" font-size="5.6" fill="#000" font-family='"Liberation Sans","Noto Sans CJK SC",sans-serif' font-weight="bold" textLength="12.5" lengthAdjust="spacingAndGlyphs" stroke="#000" stroke-width="0.4">48.14</text>
<text x="541.8" y="300.96" font-size="5.6" fill="#000" font-family='"Liberation Sans","Noto Sans CJK SC",sans-serif' font-weight="bold" text-anchor="middle" textLength="2.9" lengthAdjust="spacingAndGlyphs" stroke="#000" stroke-width="0.4">7</text>
<text x="546.8" y="300.96" font-size="5.6" fill="#000" font-family='"Liberation Sans","Noto Sans CJK SC",sans-serif' font-weight="bold" textLength="23.2" lengthAdjust="spacingAndGlyphs" stroke="#000" stroke-width="0.4">S312-8-7</text>
<text x="574.5" y="300.96" font-size="5.6" fill="#000" font-family='"Liberation Sans","Noto Sans CJK SC",sans-serif' font-weight="bold" textLength="28.8" lengthAdjust="spacingAndGlyphs" stroke="#000" stroke-width="0.4">刚性防水套管</text>
<text x="610.7" y="300.96" font-size="5.6" fill="#000" font-family='"Liberation Sans","Noto Sans CJK SC",sans-serif' font-weight="bold" textLength="14.5" lengthAdjust="spacingAndGlyphs" stroke="#000" stroke-width="0.4">DN400</text>
<text x="662.6" y="300.96" font-size="5.6" fill="#000" font-family='"Liberation Sans","Noto Sans CJK SC",sans-serif' font-weight="bold" text-anchor="middle" textLength="4.8" lengthAdjust="spacingAndGlyphs" stroke="#000" stroke-width="0.4">个</text>
<text x="670.8" y="300.96" font-size="5.6" fill="#000" font-family='"Liberation Sans","Noto Sans CJK SC",sans-serif' font-weight="bold" text-anchor="middle" textLength="2.9" lengthAdjust="spacingAndGlyphs" stroke="#000" stroke-width="0.4">4</text>
<text x="675.8" y="300.96" font-size="5.6" fill="#000" font-family='"Liberation Sans","Noto Sans CJK SC",sans-serif' font-weight="bold" textLength="10.3" lengthAdjust="spacingAndGlyphs" stroke="#000" stroke-width="0.4">39.09</text>
<text x="688.1" y="300.96" font-size="5.6" fill="#000" font-family='"Liberation Sans","Noto Sans CJK SC",sans-serif' font-weight="bold" textLength="12.5" lengthAdjust="spacingAndGlyphs" stroke="#000" stroke-width="0.4">156.36</text>
<text x="541.8" y="308.98" font-size="5.6" fill="#000" font-family='"Liberation Sans","Noto Sans CJK SC",sans-serif' font-weight="bold" text-anchor="middle" textLength="2.9" lengthAdjust="spacingAndGlyphs" stroke="#000" stroke-width="0.4">8</text>
<text x="546.8" y="308.98" font-size="5.6" fill="#000" font-family='"Liberation Sans","Noto Sans CJK SC",sans-serif' font-weight="bold" textLength="23.2" lengthAdjust="spacingAndGlyphs" stroke="#000" stroke-width="0.4">S312-8-7</text>
<text x="574.5" y="308.98" font-size="5.6" fill="#000" font-family='"Liberation Sans","Noto Sans CJK SC",sans-serif' font-weight="bold" textLength="28.8" lengthAdjust="spacingAndGlyphs" stroke="#000" stroke-width="0.4">刚性防水套管</text>
<text x="610.7" y="308.98" font-size="5.6" fill="#000" font-family='"Liberation Sans","Noto Sans CJK SC",sans-serif' font-weight="bold" textLength="14.5" lengthAdjust="spacingAndGlyphs" stroke="#000" stroke-width="0.4">DN300</text>
<text x="662.6" y="308.98" font-size="5.6" fill="#000" font-family='"Liberation Sans","Noto Sans CJK SC",sans-serif' font-weight="bold" text-anchor="middle" textLength="4.8" lengthAdjust="spacingAndGlyphs" stroke="#000" stroke-width="0.4">个</text>
<text x="670.8" y="308.98" font-size="5.6" fill="#000" font-family='"Liberation Sans","Noto Sans CJK SC",sans-serif' font-weight="bold" text-anchor="middle" textLength="2.9" lengthAdjust="spacingAndGlyphs" stroke="#000" stroke-width="0.4">1</text>
<text x="675.8" y="308.98" font-size="5.6" fill="#000" font-family='"Liberation Sans","Noto Sans CJK SC",sans-serif' font-weight="bold" textLength="10.3" lengthAdjust="spacingAndGlyphs" stroke="#000" stroke-width="0.4">14.13</text>
<text x="688.1" y="308.98" font-size="5.6" fill="#000" font-family='"Liberation Sans","Noto Sans CJK SC",sans-serif' font-weight="bold" textLength="12.5" lengthAdjust="spacingAndGlyphs" stroke="#000" stroke-width="0.4">14.13</text>
<text x="541.8" y="317.01" font-size="5.6" fill="#000" font-family='"Liberation Sans","Noto Sans CJK SC",sans-serif' font-weight="bold" text-anchor="middle" textLength="2.9" lengthAdjust="spacingAndGlyphs" stroke="#000" stroke-width="0.4">9</text>
<text x="546.8" y="317.01" font-size="5.6" fill="#000" font-family='"Liberation Sans","Noto Sans CJK SC",sans-serif' font-weight="bold" textLength="25.7" lengthAdjust="spacingAndGlyphs" stroke="#000" stroke-width="0.4">S311-32-29</text>
<text x="574.5" y="317.01" font-size="5.6" fill="#000" font-family='"Liberation Sans","Noto Sans CJK SC",sans-serif' font-weight="bold" textLength="9.6" lengthAdjust="spacingAndGlyphs" stroke="#000" stroke-width="0.4">弯头</text>
<text x="610.7" y="317.01" font-size="5.6" fill="#000" font-family='"Liberation Sans","Noto Sans CJK SC",sans-serif' font-weight="bold" textLength="14.5" lengthAdjust="spacingAndGlyphs" stroke="#000" stroke-width="0.4">DN300</text>
<text x="662.6" y="317.01" font-size="5.6" fill="#000" font-family='"Liberation Sans","Noto Sans CJK SC",sans-serif' font-weight="bold" text-anchor="middle" textLength="4.8" lengthAdjust="spacingAndGlyphs" stroke="#000" stroke-width="0.4">个</text>
<text x="670.8" y="317.01" font-size="5.6" fill="#000" font-family='"Liberation Sans","Noto Sans CJK SC",sans-serif' font-weight="bold" text-anchor="middle" textLength="5.8" lengthAdjust="spacingAndGlyphs" stroke="#000" stroke-width="0.4">12</text>
<text x="675.8" y="317.01" font-size="5.6" fill="#000" font-family='"Liberation Sans","Noto Sans CJK SC",sans-serif' font-weight="bold" textLength="8.7" lengthAdjust="spacingAndGlyphs" stroke="#000" stroke-width="0.4">9.4</text>
<text x="688.1" y="317.01" font-size="5.6" fill="#000" font-family='"Liberation Sans","Noto Sans CJK SC",sans-serif' font-weight="bold" textLength="12.5" lengthAdjust="spacingAndGlyphs" stroke="#000" stroke-width="0.4">112.8</text>
<text x="541.8" y="325.03" font-size="5.6" fill="#000" font-family='"Liberation Sans","Noto Sans CJK SC",sans-serif' font-weight="bold" text-anchor="middle" textLength="5.8" lengthAdjust="spacingAndGlyphs" stroke="#000" stroke-width="0.4">10</text>
<text x="546.8" y="325.03" font-size="5.6" fill="#000" font-family='"Liberation Sans","Noto Sans CJK SC",sans-serif' font-weight="bold" textLength="25.7" lengthAdjust="spacingAndGlyphs" stroke="#000" stroke-width="0.4">S311-32-29</text>
<text x="574.5" y="325.03" font-size="5.6" fill="#000" font-family='"Liberation Sans","Noto Sans CJK SC",sans-serif' font-weight="bold" textLength="9.6" lengthAdjust="spacingAndGlyphs" stroke="#000" stroke-width="0.4">弯头</text>
<text x="610.7" y="325.03" font-size="5.6" fill="#000" font-family='"Liberation Sans","Noto Sans CJK SC",sans-serif' font-weight="bold" textLength="14.5" lengthAdjust="spacingAndGlyphs" stroke="#000" stroke-width="0.4">DN500</text>
<text x="662.6" y="325.03" font-size="5.6" fill="#000" font-family='"Liberation Sans","Noto Sans CJK SC",sans-serif' font-weight="bold" text-anchor="middle" textLength="4.8" lengthAdjust="spacingAndGlyphs" stroke="#000" stroke-width="0.4">个</text>
<text x="670.8" y="325.03" font-size="5.6" fill="#000" font-family='"Liberation Sans","Noto Sans CJK SC",sans-serif' font-weight="bold" text-anchor="middle" textLength="2.9" lengthAdjust="spacingAndGlyphs" stroke="#000" stroke-width="0.4">3</text>
<text x="675.8" y="325.03" font-size="5.6" fill="#000" font-family='"Liberation Sans","Noto Sans CJK SC",sans-serif' font-weight="bold" textLength="10.3" lengthAdjust="spacingAndGlyphs" stroke="#000" stroke-width="0.4">48.8</text>
<text x="688.1" y="325.03" font-size="5.6" fill="#000" font-family='"Liberation Sans","Noto Sans CJK SC",sans-serif' font-weight="bold" textLength="12.5" lengthAdjust="spacingAndGlyphs" stroke="#000" stroke-width="0.4">146.4</text>
<text x="541.8" y="333.05" font-size="5.6" fill="#000" font-family='"Liberation Sans","Noto Sans CJK SC",sans-serif' font-weight="bold" text-anchor="middle" textLength="5.8" lengthAdjust="spacingAndGlyphs" stroke="#000" stroke-width="0.4">11</text>
<text x="546.8" y="333.05" font-size="5.6" fill="#000" font-family='"Liberation Sans","Noto Sans CJK SC",sans-serif' font-weight="bold" textLength="25.7" lengthAdjust="spacingAndGlyphs" stroke="#000" stroke-width="0.4">S311-32-21</text>
<text x="574.5" y="333.05" font-size="5.6" fill="#000" font-family='"Liberation Sans","Noto Sans CJK SC",sans-serif' font-weight="bold" textLength="14.4" lengthAdjust="spacingAndGlyphs" stroke="#000" stroke-width="0.4">异径管</text>
<text x="610.7" y="333.05" font-size="5.6" fill="#000" font-family='"Liberation Sans","Noto Sans CJK SC",sans-serif' font-weight="bold" textLength="26" lengthAdjust="spacingAndGlyphs" stroke="#000" stroke-width="0.4">DN300X200</text>
<text x="662.6" y="333.05" font-size="5.6" fill="#000" font-family='"Liberation Sans","Noto Sans CJK SC",sans-serif' font-weight="bold" text-anchor="middle" textLength="4.8" lengthAdjust="spacingAndGlyphs" stroke="#000" stroke-width="0.4">个</text>
<text x="670.8" y="333.05" font-size="5.6" fill="#000" font-family='"Liberation Sans","Noto Sans CJK SC",sans-serif' font-weight="bold" text-anchor="middle" textLength="2.9" lengthAdjust="spacingAndGlyphs" stroke="#000" stroke-width="0.4">3</text>
<text x="675.8" y="333.05" font-size="5.6" fill="#000" font-family='"Liberation Sans","Noto Sans CJK SC",sans-serif' font-weight="bold" textLength="10.3" lengthAdjust="spacingAndGlyphs" stroke="#000" stroke-width="0.4">18.5</text>
<text x="688.1" y="333.05" font-size="5.6" fill="#000" font-family='"Liberation Sans","Noto Sans CJK SC",sans-serif' font-weight="bold" textLength="11.6" lengthAdjust="spacingAndGlyphs" stroke="#000" stroke-width="0.4">55.5</text>
<text x="541.8" y="341.08" font-size="5.6" fill="#000" font-family='"Liberation Sans","Noto Sans CJK SC",sans-serif' font-weight="bold" text-anchor="middle" textLength="5.8" lengthAdjust="spacingAndGlyphs" stroke="#000" stroke-width="0.4">12</text>
<text x="546.8" y="341.08" font-size="5.6" fill="#000" font-family='"Liberation Sans","Noto Sans CJK SC",sans-serif' font-weight="bold" textLength="25.7" lengthAdjust="spacingAndGlyphs" stroke="#000" stroke-width="0.4">S311-32-3</text>
<text x="574.5" y="341.08" font-size="5.6" fill="#000" font-family='"Liberation Sans","Noto Sans CJK SC",sans-serif' font-weight="bold" textLength="9.6" lengthAdjust="spacingAndGlyphs" stroke="#000" stroke-width="0.4">三通</text>
<text x="610.7" y="341.08" font-size="5.6" fill="#000" font-family='"Liberation Sans","Noto Sans CJK SC",sans-serif' font-weight="bold" textLength="20.3" lengthAdjust="spacingAndGlyphs" stroke="#000" stroke-width="0.4">D300X9L</text>
<text x="662.6" y="341.08" font-size="5.6" fill="#000" font-family='"Liberation Sans","Noto Sans CJK SC",sans-serif' font-weight="bold" text-anchor="middle" textLength="4.8" lengthAdjust="spacingAndGlyphs" stroke="#000" stroke-width="0.4">个</text>
<text x="670.8" y="341.08" font-size="5.6" fill="#000" font-family='"Liberation Sans","Noto Sans CJK SC",sans-serif' font-weight="bold" text-anchor="middle" textLength="2.9" lengthAdjust="spacingAndGlyphs" stroke="#000" stroke-width="0.4">3</text>
<text x="675.8" y="341.08" font-size="5.6" fill="#000" font-family='"Liberation Sans","Noto Sans CJK SC",sans-serif' font-weight="bold" textLength="10.3" lengthAdjust="spacingAndGlyphs" stroke="#000" stroke-width="0.4">31.1</text>
<text x="688.1" y="341.08" font-size="5.6" fill="#000" font-family='"Liberation Sans","Noto Sans CJK SC",sans-serif' font-weight="bold" textLength="11.6" lengthAdjust="spacingAndGlyphs" stroke="#000" stroke-width="0.4">93.3</text>
<text x="541.8" y="349.1" font-size="5.6" fill="#000" font-family='"Liberation Sans","Noto Sans CJK SC",sans-serif' font-weight="bold" text-anchor="middle" textLength="5.8" lengthAdjust="spacingAndGlyphs" stroke="#000" stroke-width="0.4">13</text>
<text x="546.8" y="349.1" font-size="5.6" fill="#000" font-family='"Liberation Sans","Noto Sans CJK SC",sans-serif' font-weight="bold" textLength="25.7" lengthAdjust="spacingAndGlyphs" stroke="#000" stroke-width="0.4">S311-35-37</text>
<text x="574.5" y="349.1" font-size="5.6" fill="#000" font-family='"Liberation Sans","Noto Sans CJK SC",sans-serif' font-weight="bold" textLength="24" lengthAdjust="spacingAndGlyphs" stroke="#000" stroke-width="0.4">闸阀止回阀</text>
<text x="610.7" y="349.1" font-size="5.6" fill="#000" font-family='"Liberation Sans","Noto Sans CJK SC",sans-serif' font-weight="bold" textLength="14.5" lengthAdjust="spacingAndGlyphs" stroke="#000" stroke-width="0.4">DN300</text>
<text x="662.6" y="349.1" font-size="5.6" fill="#000" font-family='"Liberation Sans","Noto Sans CJK SC",sans-serif' font-weight="bold" text-anchor="middle" textLength="4.8" lengthAdjust="spacingAndGlyphs" stroke="#000" stroke-width="0.4">个</text>
<text x="670.8" y="349.1" font-size="5.6" fill="#000" font-family='"Liberation Sans","Noto Sans CJK SC",sans-serif' font-weight="bold" text-anchor="middle" textLength="2.9" lengthAdjust="spacingAndGlyphs" stroke="#000" stroke-width="0.4">3</text>
<text y="378.1" font-size="8.2" fill="#333" font-weight="500" font-family='"Liberation Serif","Noto Serif CJK SC",serif' xml:space="preserve"><tspan x="540.6" letter-spacing="0.62">说明:</tspan></text>
<text y="390" font-size="8.2" fill="#333" font-weight="500" font-family='"Liberation Serif","Noto Serif CJK SC",serif' xml:space="preserve"><tspan x="539.6" font-family='"Liberation Sans","Noto Sans CJK SC",sans-serif' fill="#000" font-size="10" font-weight="normal" letter-spacing="-0.55" stroke="#000" stroke-width="0.25">1.</tspan><tspan x="548.6" letter-spacing="0.62">图中尺寸除标高以</tspan><tspan x="619.2" font-family='"Liberation Sans","Noto Sans CJK SC",sans-serif' fill="#000" font-size="10" font-weight="normal" letter-spacing="-0.2" stroke="#000" stroke-width="0.2">m</tspan><tspan x="629.6" letter-spacing="0.62">计外</tspan><tspan x="645.6" font-family='"Liberation Sans","Noto Sans CJK SC",sans-serif' fill="#000" font-size="10" font-weight="normal" letter-spacing="-0.2" stroke="#000" stroke-width="0.2">,</tspan><tspan x="650.6" letter-spacing="0.62">其余均以</tspan><tspan x="684.4" font-family='"Liberation Sans","Noto Sans CJK SC",sans-serif' fill="#000" font-size="10" font-weight="normal" letter-spacing="-0.2" stroke="#000" stroke-width="0.2">mm</tspan><tspan x="703.3" letter-spacing="0.62">计</tspan><tspan x="711.8" font-family='"Liberation Sans","Noto Sans CJK SC",sans-serif' fill="#000" font-size="10" font-weight="normal" letter-spacing="-0.2" stroke="#000" stroke-width="0.2">.</tspan></text>
<text y="401.3" font-size="8.2" fill="#333" font-weight="500" font-family='"Liberation Serif","Noto Serif CJK SC",serif' xml:space="preserve"><tspan x="539.6" font-family='"Liberation Sans","Noto Sans CJK SC",sans-serif' fill="#000" font-size="10" font-weight="normal" letter-spacing="-0.55" stroke="#000" stroke-width="0.25">2.</tspan><tspan x="550.2" letter-spacing="0.62">粗格栅及进水泵房平面位置详见总平面布置图</tspan><tspan x="727.6" font-family='"Liberation Sans","Noto Sans CJK SC",sans-serif' fill="#000" font-size="10" font-weight="normal" letter-spacing="-0.2" stroke="#000" stroke-width="0.2">.</tspan></text>
<text y="413.1" font-size="8.2" fill="#333" font-weight="500" font-family='"Liberation Serif","Noto Serif CJK SC",serif' xml:space="preserve"><tspan x="539.6" font-family='"Liberation Sans","Noto Sans CJK SC",sans-serif' fill="#000" font-size="10" font-weight="normal" letter-spacing="-0.55" stroke="#000" stroke-width="0.25">3.</tspan><tspan x="550.2" letter-spacing="0.62">埋设地下焊接钢管防腐采用加强级防腐层</tspan><tspan x="709.6" font-family='"Liberation Sans","Noto Sans CJK SC",sans-serif' fill="#000" font-size="10" font-weight="normal" letter-spacing="-0.2" stroke="#000" stroke-width="0.2">(</tspan><tspan x="715.6" letter-spacing="0.62">三</tspan></text>
<text y="425" font-size="8.2" fill="#333" font-weight="500" font-family='"Liberation Serif","Noto Serif CJK SC",serif' xml:space="preserve"><tspan x="541.4" letter-spacing="0.62">油一布</tspan><tspan x="566.4" font-family='"Liberation Sans","Noto Sans CJK SC",sans-serif' fill="#000" font-size="10" font-weight="normal" letter-spacing="-0.2" stroke="#000" stroke-width="0.2">),</tspan><tspan x="575" letter-spacing="0.62">详见</tspan><tspan x="597.8" letter-spacing="0.62">建筑给水排水及采暖工程施工质</tspan></text>
<text y="436.4" font-size="8.2" fill="#333" font-weight="500" font-family='"Liberation Serif","Noto Serif CJK SC",serif' xml:space="preserve"><tspan x="541.4" letter-spacing="0.62">量验收规范</tspan><tspan x="589.6" font-family='"Liberation Sans","Noto Sans CJK SC",sans-serif' fill="#000" font-size="10" font-weight="normal" letter-spacing="-0.2" stroke="#000" stroke-width="0.2">.</tspan></text>
<text y="448.1" font-size="8.2" fill="#333" font-weight="500" font-family='"Liberation Serif","Noto Serif CJK SC",serif' xml:space="preserve"><tspan x="539.6" font-family='"Liberation Sans","Noto Sans CJK SC",sans-serif' fill="#000" font-size="10" font-weight="normal" letter-spacing="-0.55" stroke="#000" stroke-width="0.25">4.</tspan><tspan x="550.2" letter-spacing="0.62">明细表中焊接钢管统计至池壁外</tspan><tspan x="673.4" font-family='"Liberation Sans","Noto Sans CJK SC",sans-serif' fill="#000" font-size="10" font-weight="normal" letter-spacing="-0.2" stroke="#000" stroke-width="0.2">1.0m</tspan><tspan x="698" font-family='"Liberation Sans","Noto Sans CJK SC",sans-serif' fill="#000" font-size="10" font-weight="normal" letter-spacing="-0.2" stroke="#000" stroke-width="0.2">.</tspan></text>
<line x1="534.4" y1="465.4" x2="736.6" y2="465.4" stroke="#000" stroke-width="1.6"/>
<line x1="534.4" y1="465.4" x2="534.4" y2="516.2" stroke="#000" stroke-width="1.6"/>
<line x1="534.4" y1="482.5" x2="736.6" y2="482.5" stroke="#000" stroke-width="1.3"/>
<line x1="697.9" y1="465.4" x2="697.9" y2="516.2" stroke="#000" stroke-width="1.1"/>
<line x1="713.1" y1="465.4" x2="713.1" y2="482.5" stroke="#000" stroke-width="1"/>
<line x1="713.1" y1="499.6" x2="713.1" y2="516.2" stroke="#000" stroke-width="1"/>
<line x1="697.9" y1="474.2" x2="736.6" y2="474.2" stroke="#000" stroke-width="1"/>
<line x1="697.9" y1="499.6" x2="736.6" y2="499.6" stroke="#000" stroke-width="1"/>
<line x1="697.9" y1="508.2" x2="736.6" y2="508.2" stroke="#000" stroke-width="1"/>
<line x1="550.6" y1="482.5" x2="550.6" y2="516.2" stroke="#000" stroke-width="1.1"/>
<line x1="572.6" y1="482.5" x2="572.6" y2="516.2" stroke="#000" stroke-width="1.1"/>
<line x1="587.6" y1="482.5" x2="587.6" y2="516.2" stroke="#000" stroke-width="1.1"/>
<line x1="610.5" y1="482.5" x2="610.5" y2="516.2" stroke="#000" stroke-width="1.1"/>
<line x1="635.3" y1="482.5" x2="635.3" y2="516.2" stroke="#000" stroke-width="1.1"/>
<line x1="534.4" y1="491.1" x2="572.6" y2="491.1" stroke="#000" stroke-width="1"/>
<line x1="587.6" y1="491.1" x2="697.9" y2="491.1" stroke="#000" stroke-width="1"/>
<line x1="550.6" y1="499.6" x2="610.5" y2="499.6" stroke="#000" stroke-width="1"/>
<line x1="534.4" y1="508.2" x2="610.5" y2="508.2" stroke="#000" stroke-width="1"/>
<text x="542.5" y="488.8" font-size="5.2" fill="#666" font-family='"Liberation Serif","Noto Serif CJK SC",serif' text-anchor="middle" >制图</text>
<text x="542.5" y="497.6" font-size="5.2" fill="#666" font-family='"Liberation Serif","Noto Serif CJK SC",serif' text-anchor="middle" >设计总</text>
<text x="542.5" y="504.8" font-size="5.2" fill="#666" font-family='"Liberation Serif","Noto Serif CJK SC",serif' text-anchor="middle" >负责人</text>
<text x="542.5" y="513.7" font-size="5" fill="#666" font-family='"Liberation Serif","Noto Serif CJK SC",serif' text-anchor="middle" >审核</text>
<text x="580.1" y="488.8" font-size="5.2" fill="#666" font-family='"Liberation Serif","Noto Serif CJK SC",serif' text-anchor="middle" >指导</text>
<text x="580.1" y="497" font-size="5.2" fill="#666" font-family='"Liberation Serif","Noto Serif CJK SC",serif' text-anchor="middle" >教师</text>
<text x="580.1" y="506" font-size="5.2" fill="#666" font-family='"Liberation Serif","Noto Serif CJK SC",serif' text-anchor="middle" >设计</text>
<text x="580.1" y="513.7" font-size="5" fill="#666" font-family='"Liberation Serif","Noto Serif CJK SC",serif' text-anchor="middle" >学号</text>
<text x="622.9" y="488.8" font-size="5.2" fill="#666" font-family='"Liberation Serif","Noto Serif CJK SC",serif' text-anchor="middle" textLength="20" lengthAdjust="spacingAndGlyphs" >工程名称</text>
<text x="622.9" y="505.5" font-size="5.2" fill="#666" font-family='"Liberation Serif","Noto Serif CJK SC",serif' text-anchor="middle" >图　名</text>
<text x="635.8" y="489.6" font-size="7.4" fill="#333" font-family='"Liberation Serif","Noto Serif CJK SC",serif' font-weight="500" textLength="56.8" lengthAdjust="spacingAndGlyphs" >城镇污水处理厂设</text>
<text x="636.3" y="499.6" font-size="9" fill="#333" font-family='"Liberation Serif","Noto Serif CJK SC",serif' font-weight="500" textLength="60.5" lengthAdjust="spacingAndGlyphs" >中格栅井与污水</text>
<text x="636.3" y="511.6" font-size="9" fill="#333" font-family='"Liberation Serif","Noto Serif CJK SC",serif' font-weight="500" textLength="60.5" lengthAdjust="spacingAndGlyphs" >提升泵房平面图</text>
<text x="705.5" y="472.3" font-size="5" fill="#666" font-family='"Liberation Serif","Noto Serif CJK SC",serif' text-anchor="middle" >图别</text>
<text x="705.5" y="480.7" font-size="5" fill="#666" font-family='"Liberation Serif","Noto Serif CJK SC",serif' text-anchor="middle" >比例</text>
<text x="705.5" y="489" font-size="5" fill="#666" font-family='"Liberation Serif","Noto Serif CJK SC",serif' text-anchor="middle" >图号</text>
<text x="705.5" y="506.3" font-size="5" fill="#666" font-family='"Liberation Serif","Noto Serif CJK SC",serif' text-anchor="middle" >版号</text>
<text x="705.5" y="513.9" font-size="5" fill="#666" font-family='"Liberation Serif","Noto Serif CJK SC",serif' text-anchor="middle" >日期</text>
<text x="724.85" y="472.8" font-size="7" fill="#666" font-family='"Liberation Serif","Noto Serif CJK SC",serif' text-anchor="middle" >污</text>
<text x="724.8" y="481.2" font-size="6.5" fill="#000" font-family='"Liberation Sans","Noto Sans CJK SC",sans-serif' font-weight="bold" stroke="#000" stroke-width="0.3" text-anchor="middle" >1:50</text>
<text x="724.8" y="506.8" font-size="6.5" fill="#000" font-family='"Liberation Sans","Noto Sans CJK SC",sans-serif' text-anchor="middle" >A2</text>
<text x="725.4" y="514.4" font-size="6.3" fill="#000" font-family='"Liberation Sans","Noto Sans CJK SC",sans-serif' font-weight="bold" stroke="#000" stroke-width="0.3" text-anchor="middle" textLength="21.5" lengthAdjust="spacingAndGlyphs" >2006.6</text>
</svg>
</body></html>
